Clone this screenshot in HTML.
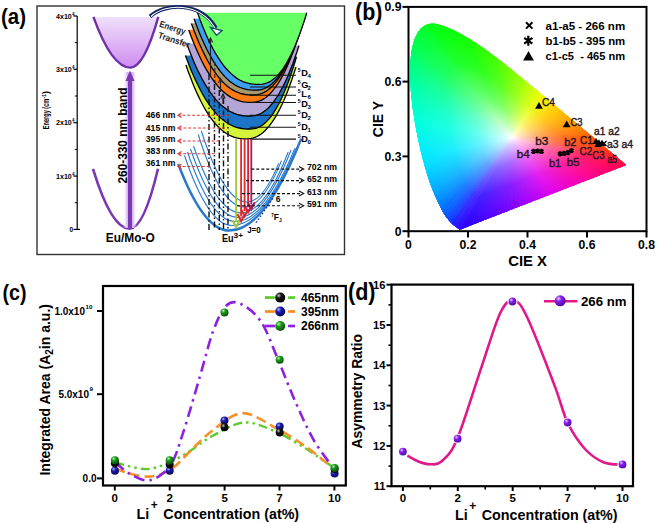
<!DOCTYPE html>
<html><head><meta charset="utf-8"><style>
html,body{margin:0;padding:0;background:#fff;}
body{width:657px;height:523px;position:relative;overflow:hidden;}
svg{position:absolute;left:0;top:0;}
text{font-family:"Liberation Sans",sans-serif;}
</style></head><body>

<svg width="657" height="523" viewBox="0 0 657 523">
<defs><clipPath id="cieclip"><polygon points="460.3,230.0 459.5,229.9 457.4,228.5 455.1,226.8 451.3,223.8 449.5,221.8 447.4,219.3 445.4,216.8 443.2,213.5 441.1,209.6 439.9,207.1 438.5,204.4 437.1,201.5 435.7,198.1 434.6,195.7 433.5,193.1 432.4,190.4 431.2,187.5 430.1,184.4 428.9,181.2 428.1,178.6 427.2,175.9 426.3,173.1 425.5,170.2 424.6,167.2 423.7,164.1 422.9,160.9 422.0,157.7 421.3,155.0 420.6,152.2 420.0,149.3 419.3,146.4 418.6,143.5 417.9,140.5 417.3,137.4 416.7,134.4 416.1,131.4 415.5,128.3 414.9,125.3 414.4,122.1 413.9,119.0 413.4,115.8 412.9,112.6 412.4,109.4 412.0,106.3 411.6,103.1 411.3,100.0 410.9,97.0 410.6,93.6 410.4,90.3 410.1,86.9 409.9,83.6 409.8,80.4 409.7,77.2 409.6,74.0 409.6,70.9 409.7,68.0 409.8,64.2 410.1,60.5 410.4,57.0 410.8,53.5 411.3,50.2 411.9,47.1 412.6,44.2 413.8,40.4 415.1,36.9 416.7,33.8 418.3,31.1 420.1,28.8 423.3,25.9 426.9,24.2 430.6,23.3 433.5,23.2 436.4,23.6 439.5,24.4 442.5,25.2 445.5,26.2 448.5,27.5 451.6,28.9 454.5,30.3 457.4,31.7 460.3,33.2 463.1,34.8 465.9,36.3 468.7,38.0 471.4,39.7 474.1,41.4 476.8,43.2 479.5,45.0 482.2,46.8 484.9,48.7 487.6,50.6 490.2,52.6 492.9,54.6 495.6,56.6 498.2,58.6 500.9,60.7 503.5,62.7 506.2,64.8 508.8,66.9 511.5,69.1 514.2,71.2 516.8,73.4 519.5,75.5 522.2,77.7 524.8,79.9 527.4,82.0 530.1,84.2 532.7,86.4 535.4,88.6 538.0,90.7 540.6,92.9 543.2,95.1 545.8,97.2 548.4,99.4 550.9,101.5 553.5,103.6 556.0,105.7 558.5,107.8 561.0,109.9 563.4,111.9 565.8,114.0 568.2,116.0 570.6,117.9 573.7,120.5 576.7,123.0 579.6,125.4 582.5,127.8 585.2,130.1 587.9,132.4 590.2,134.3 592.4,136.1 595.0,138.3 597.1,140.1 599.5,142.1 602.0,144.2 604.4,146.2 606.6,147.9 609.5,150.4 612.0,152.5 614.2,154.3 616.9,156.6 619.1,158.4 622.4,161.2 625.7,163.9 627.1,165.1 622.4,166.9 617.8,168.7 613.2,170.5 608.5,172.3 603.9,174.1 599.3,175.9 594.6,177.7 590.0,179.5 585.4,181.3 580.7,183.1 576.1,184.9 571.5,186.7 566.8,188.5 562.2,190.3 557.6,192.1 552.9,193.9 548.3,195.7 543.7,197.5 539.1,199.3 534.4,201.1 529.8,202.9 525.2,204.7 520.5,206.5 515.9,208.3 511.3,210.1 506.6,211.9 502.0,213.7 497.4,215.5 492.7,217.3 488.1,219.1 483.5,220.9 478.8,222.7 474.2,224.5 469.6,226.3 464.9,228.2"/></clipPath></defs><g clip-path="url(#cieclip)"><defs><linearGradient id="cg0" gradientUnits="userSpaceOnUse" x1="512" y1="137.5" x2="509.1" y2="231.5"><stop offset="0" stop-color="#fff"/><stop offset="0.1" stop-color="#d1c8ff"/><stop offset="0.35" stop-color="#8269ff"/><stop offset="0.65" stop-color="#4723ff"/><stop offset="1" stop-color="#2e05ff"/></linearGradient><linearGradient id="cg1" gradientUnits="userSpaceOnUse" x1="512" y1="137.5" x2="451.6" y2="224.5"><stop offset="0" stop-color="#fff"/><stop offset="0.1" stop-color="#d1c9ff"/><stop offset="0.35" stop-color="#806dff"/><stop offset="0.65" stop-color="#4529ff"/><stop offset="1" stop-color="#2c0bff"/></linearGradient><linearGradient id="cg2" gradientUnits="userSpaceOnUse" x1="512" y1="137.5" x2="449.7" y2="222.8"><stop offset="0" stop-color="#fff"/><stop offset="0.1" stop-color="#d0caff"/><stop offset="0.35" stop-color="#7f6fff"/><stop offset="0.65" stop-color="#442cff"/><stop offset="1" stop-color="#2a0fff"/></linearGradient><linearGradient id="cg3" gradientUnits="userSpaceOnUse" x1="512" y1="137.5" x2="446.3" y2="219.8"><stop offset="0" stop-color="#fff"/><stop offset="0.1" stop-color="#ceceff"/><stop offset="0.35" stop-color="#7a79ff"/><stop offset="0.65" stop-color="#3c3bff"/><stop offset="1" stop-color="#2120ff"/></linearGradient><linearGradient id="cg4" gradientUnits="userSpaceOnUse" x1="512" y1="137.5" x2="436.2" y2="207.4"><stop offset="0" stop-color="#fff"/><stop offset="0.1" stop-color="#ccd3ff"/><stop offset="0.35" stop-color="#7386ff"/><stop offset="0.65" stop-color="#324eff"/><stop offset="1" stop-color="#1635ff"/></linearGradient><linearGradient id="cg5" gradientUnits="userSpaceOnUse" x1="512" y1="137.5" x2="434.2" y2="203.9"><stop offset="0" stop-color="#fff"/><stop offset="0.1" stop-color="#cad5ff"/><stop offset="0.35" stop-color="#708dff"/><stop offset="0.65" stop-color="#2d58ff"/><stop offset="1" stop-color="#1041ff"/></linearGradient><linearGradient id="cg6" gradientUnits="userSpaceOnUse" x1="512" y1="137.5" x2="432.0" y2="199.4"><stop offset="0" stop-color="#fff"/><stop offset="0.1" stop-color="#c9d8ff"/><stop offset="0.35" stop-color="#6c96ff"/><stop offset="0.65" stop-color="#2865ff"/><stop offset="1" stop-color="#0b50ff"/></linearGradient><linearGradient id="cg7" gradientUnits="userSpaceOnUse" x1="512" y1="137.5" x2="429.1" y2="191.8"><stop offset="0" stop-color="#fff"/><stop offset="0.1" stop-color="#c8dcff"/><stop offset="0.35" stop-color="#6a9eff"/><stop offset="0.65" stop-color="#2471ff"/><stop offset="1" stop-color="#065eff"/></linearGradient><linearGradient id="cg8" gradientUnits="userSpaceOnUse" x1="512" y1="137.5" x2="427.1" y2="183.9"><stop offset="0" stop-color="#fff"/><stop offset="0.1" stop-color="#c7deff"/><stop offset="0.35" stop-color="#67a6ff"/><stop offset="0.65" stop-color="#207cff"/><stop offset="1" stop-color="#026aff"/></linearGradient><linearGradient id="cg9" gradientUnits="userSpaceOnUse" x1="512" y1="137.5" x2="426.6" y2="181.4"><stop offset="0" stop-color="#fff"/><stop offset="0.1" stop-color="#c7e1ff"/><stop offset="0.35" stop-color="#66acff"/><stop offset="0.65" stop-color="#1f86ff"/><stop offset="1" stop-color="#0075ff"/></linearGradient><linearGradient id="cg10" gradientUnits="userSpaceOnUse" x1="512" y1="137.5" x2="426.3" y2="179.7"><stop offset="0" stop-color="#fff"/><stop offset="0.1" stop-color="#c7e3ff"/><stop offset="0.35" stop-color="#66b2ff"/><stop offset="0.65" stop-color="#1f8eff"/><stop offset="1" stop-color="#007fff"/></linearGradient><linearGradient id="cg11" gradientUnits="userSpaceOnUse" x1="512" y1="137.5" x2="426.0" y2="177.7"><stop offset="0" stop-color="#fff"/><stop offset="0.1" stop-color="#c7e5ff"/><stop offset="0.35" stop-color="#66b8ff"/><stop offset="0.65" stop-color="#1f97ff"/><stop offset="1" stop-color="#0089ff"/></linearGradient><linearGradient id="cg12" gradientUnits="userSpaceOnUse" x1="512" y1="137.5" x2="425.7" y2="175.6"><stop offset="0" stop-color="#fff"/><stop offset="0.1" stop-color="#c7e7ff"/><stop offset="0.35" stop-color="#66beff"/><stop offset="0.65" stop-color="#1fa0ff"/><stop offset="1" stop-color="#0093ff"/></linearGradient><linearGradient id="cg13" gradientUnits="userSpaceOnUse" x1="512" y1="137.5" x2="425.6" y2="174.6"><stop offset="0" stop-color="#fff"/><stop offset="0.1" stop-color="#c7e9ff"/><stop offset="0.35" stop-color="#66c3ff"/><stop offset="0.65" stop-color="#1fa7ff"/><stop offset="1" stop-color="#009bff"/></linearGradient><linearGradient id="cg14" gradientUnits="userSpaceOnUse" x1="512" y1="137.5" x2="425.5" y2="174.3"><stop offset="0" stop-color="#fff"/><stop offset="0.1" stop-color="#c7ebff"/><stop offset="0.35" stop-color="#66c7ff"/><stop offset="0.65" stop-color="#1fadff"/><stop offset="1" stop-color="#00a2ff"/></linearGradient><linearGradient id="cg15" gradientUnits="userSpaceOnUse" x1="512" y1="137.5" x2="425.4" y2="173.5"><stop offset="0" stop-color="#fff"/><stop offset="0.1" stop-color="#c7ecff"/><stop offset="0.35" stop-color="#66cbff"/><stop offset="0.65" stop-color="#1fb3ff"/><stop offset="1" stop-color="#00a9ff"/></linearGradient><linearGradient id="cg16" gradientUnits="userSpaceOnUse" x1="512" y1="137.5" x2="425.1" y2="172.1"><stop offset="0" stop-color="#fff"/><stop offset="0.1" stop-color="#c7edff"/><stop offset="0.35" stop-color="#66cfff"/><stop offset="0.65" stop-color="#1fb9ff"/><stop offset="1" stop-color="#00afff"/></linearGradient><linearGradient id="cg17" gradientUnits="userSpaceOnUse" x1="512" y1="137.5" x2="424.8" y2="170.3"><stop offset="0" stop-color="#fff"/><stop offset="0.1" stop-color="#c7efff"/><stop offset="0.35" stop-color="#66d3ff"/><stop offset="0.65" stop-color="#1fbfff"/><stop offset="1" stop-color="#00b6ff"/></linearGradient><linearGradient id="cg18" gradientUnits="userSpaceOnUse" x1="512" y1="137.5" x2="424.4" y2="168.3"><stop offset="0" stop-color="#fff"/><stop offset="0.1" stop-color="#c7f0ff"/><stop offset="0.35" stop-color="#66d7ff"/><stop offset="0.65" stop-color="#1fc5ff"/><stop offset="1" stop-color="#00bdff"/></linearGradient><linearGradient id="cg19" gradientUnits="userSpaceOnUse" x1="512" y1="137.5" x2="424.1" y2="166.7"><stop offset="0" stop-color="#fff"/><stop offset="0.1" stop-color="#c7f2ff"/><stop offset="0.35" stop-color="#66dbff"/><stop offset="0.65" stop-color="#1fcaff"/><stop offset="1" stop-color="#00c2ff"/></linearGradient><linearGradient id="cg20" gradientUnits="userSpaceOnUse" x1="512" y1="137.5" x2="424.0" y2="165.9"><stop offset="0" stop-color="#fff"/><stop offset="0.1" stop-color="#c7f3ff"/><stop offset="0.35" stop-color="#66deff"/><stop offset="0.65" stop-color="#1fceff"/><stop offset="1" stop-color="#00c8ff"/></linearGradient><linearGradient id="cg21" gradientUnits="userSpaceOnUse" x1="512" y1="137.5" x2="423.8" y2="165.0"><stop offset="0" stop-color="#fff"/><stop offset="0.1" stop-color="#c7f4ff"/><stop offset="0.35" stop-color="#66e1ff"/><stop offset="0.65" stop-color="#1fd3ff"/><stop offset="1" stop-color="#00ccff"/></linearGradient><linearGradient id="cg22" gradientUnits="userSpaceOnUse" x1="512" y1="137.5" x2="423.6" y2="164.2"><stop offset="0" stop-color="#fff"/><stop offset="0.1" stop-color="#c7f5ff"/><stop offset="0.35" stop-color="#66e4ff"/><stop offset="0.65" stop-color="#1fd7ff"/><stop offset="1" stop-color="#00d2ff"/></linearGradient><linearGradient id="cg23" gradientUnits="userSpaceOnUse" x1="512" y1="137.5" x2="423.5" y2="163.3"><stop offset="0" stop-color="#fff"/><stop offset="0.1" stop-color="#c7f6ff"/><stop offset="0.35" stop-color="#66e7ff"/><stop offset="0.65" stop-color="#1fdbff"/><stop offset="1" stop-color="#00d6ff"/></linearGradient><linearGradient id="cg24" gradientUnits="userSpaceOnUse" x1="512" y1="137.5" x2="423.3" y2="162.5"><stop offset="0" stop-color="#fff"/><stop offset="0.1" stop-color="#c7f7ff"/><stop offset="0.35" stop-color="#66eaff"/><stop offset="0.65" stop-color="#1fe0ff"/><stop offset="1" stop-color="#00dcff"/></linearGradient><linearGradient id="cg25" gradientUnits="userSpaceOnUse" x1="512" y1="137.5" x2="423.0" y2="161.6"><stop offset="0" stop-color="#fff"/><stop offset="0.1" stop-color="#c7f8ff"/><stop offset="0.35" stop-color="#66edff"/><stop offset="0.65" stop-color="#1fe4ff"/><stop offset="1" stop-color="#00e0ff"/></linearGradient><linearGradient id="cg26" gradientUnits="userSpaceOnUse" x1="512" y1="137.5" x2="422.8" y2="160.7"><stop offset="0" stop-color="#fff"/><stop offset="0.1" stop-color="#c7f9ff"/><stop offset="0.35" stop-color="#66f0ff"/><stop offset="0.65" stop-color="#1fe9ff"/><stop offset="1" stop-color="#00e6ff"/></linearGradient><linearGradient id="cg27" gradientUnits="userSpaceOnUse" x1="512" y1="137.5" x2="422.6" y2="160.0"><stop offset="0" stop-color="#fff"/><stop offset="0.1" stop-color="#c7faff"/><stop offset="0.35" stop-color="#66f2fe"/><stop offset="0.65" stop-color="#1fecfe"/><stop offset="1" stop-color="#00e9fe"/></linearGradient><linearGradient id="cg28" gradientUnits="userSpaceOnUse" x1="512" y1="137.5" x2="422.5" y2="159.6"><stop offset="0" stop-color="#fff"/><stop offset="0.1" stop-color="#c7fbfe"/><stop offset="0.35" stop-color="#66f3fd"/><stop offset="0.65" stop-color="#1fedfc"/><stop offset="1" stop-color="#00ebfb"/></linearGradient><linearGradient id="cg29" gradientUnits="userSpaceOnUse" x1="512" y1="137.5" x2="422.3" y2="159.1"><stop offset="0" stop-color="#fff"/><stop offset="0.1" stop-color="#c7fbfe"/><stop offset="0.35" stop-color="#66f4fb"/><stop offset="0.65" stop-color="#1feff9"/><stop offset="1" stop-color="#00edf9"/></linearGradient><linearGradient id="cg30" gradientUnits="userSpaceOnUse" x1="512" y1="137.5" x2="422.1" y2="158.6"><stop offset="0" stop-color="#fff"/><stop offset="0.1" stop-color="#c7fbfd"/><stop offset="0.35" stop-color="#66f5fa"/><stop offset="0.65" stop-color="#1ff1f7"/><stop offset="1" stop-color="#00eff6"/></linearGradient><linearGradient id="cg31" gradientUnits="userSpaceOnUse" x1="512" y1="137.5" x2="421.9" y2="158.1"><stop offset="0" stop-color="#fff"/><stop offset="0.1" stop-color="#c7fcfc"/><stop offset="0.35" stop-color="#66f6f8"/><stop offset="0.65" stop-color="#1ff2f5"/><stop offset="1" stop-color="#00f1f3"/></linearGradient><linearGradient id="cg32" gradientUnits="userSpaceOnUse" x1="512" y1="137.5" x2="421.7" y2="157.5"><stop offset="0" stop-color="#fff"/><stop offset="0.1" stop-color="#c7fcfc"/><stop offset="0.35" stop-color="#66f8f6"/><stop offset="0.65" stop-color="#1ff4f2"/><stop offset="1" stop-color="#00f3f1"/></linearGradient><linearGradient id="cg33" gradientUnits="userSpaceOnUse" x1="512" y1="137.5" x2="421.4" y2="156.9"><stop offset="0" stop-color="#fff"/><stop offset="0.1" stop-color="#c7fdfb"/><stop offset="0.35" stop-color="#66f9f5"/><stop offset="0.65" stop-color="#1ff6f0"/><stop offset="1" stop-color="#00f4ee"/></linearGradient><linearGradient id="cg34" gradientUnits="userSpaceOnUse" x1="512" y1="137.5" x2="421.1" y2="156.2"><stop offset="0" stop-color="#fff"/><stop offset="0.1" stop-color="#c7fdfb"/><stop offset="0.35" stop-color="#66faf3"/><stop offset="0.65" stop-color="#1ff7ee"/><stop offset="1" stop-color="#00f6ec"/></linearGradient><linearGradient id="cg35" gradientUnits="userSpaceOnUse" x1="512" y1="137.5" x2="420.8" y2="155.5"><stop offset="0" stop-color="#fff"/><stop offset="0.1" stop-color="#c7fefa"/><stop offset="0.35" stop-color="#66fbf2"/><stop offset="0.65" stop-color="#1ff9ec"/><stop offset="1" stop-color="#00f8e9"/></linearGradient><linearGradient id="cg36" gradientUnits="userSpaceOnUse" x1="512" y1="137.5" x2="420.4" y2="154.7"><stop offset="0" stop-color="#fff"/><stop offset="0.1" stop-color="#c7fefa"/><stop offset="0.35" stop-color="#66fcf0"/><stop offset="0.65" stop-color="#1ffbe9"/><stop offset="1" stop-color="#00fae6"/></linearGradient><linearGradient id="cg37" gradientUnits="userSpaceOnUse" x1="512" y1="137.5" x2="420.1" y2="154.0"><stop offset="0" stop-color="#fff"/><stop offset="0.1" stop-color="#c7fef9"/><stop offset="0.35" stop-color="#66fdef"/><stop offset="0.65" stop-color="#1ffce7"/><stop offset="1" stop-color="#00fce4"/></linearGradient><linearGradient id="cg38" gradientUnits="userSpaceOnUse" x1="512" y1="137.5" x2="419.8" y2="153.5"><stop offset="0" stop-color="#fff"/><stop offset="0.1" stop-color="#c7fff8"/><stop offset="0.35" stop-color="#66feed"/><stop offset="0.65" stop-color="#1ffee5"/><stop offset="1" stop-color="#00fee1"/></linearGradient><linearGradient id="cg39" gradientUnits="userSpaceOnUse" x1="512" y1="137.5" x2="419.5" y2="152.9"><stop offset="0" stop-color="#fff"/><stop offset="0.1" stop-color="#c7fff8"/><stop offset="0.35" stop-color="#66ffeb"/><stop offset="0.65" stop-color="#1fffe2"/><stop offset="1" stop-color="#00ffde"/></linearGradient><linearGradient id="cg40" gradientUnits="userSpaceOnUse" x1="512" y1="137.5" x2="419.2" y2="152.3"><stop offset="0" stop-color="#fff"/><stop offset="0.1" stop-color="#c7fff7"/><stop offset="0.35" stop-color="#66ffe8"/><stop offset="0.65" stop-color="#1fffde"/><stop offset="1" stop-color="#00ffd9"/></linearGradient><linearGradient id="cg41" gradientUnits="userSpaceOnUse" x1="512" y1="137.5" x2="418.8" y2="151.7"><stop offset="0" stop-color="#fff"/><stop offset="0.1" stop-color="#c7fff6"/><stop offset="0.35" stop-color="#66ffe6"/><stop offset="0.65" stop-color="#1fffda"/><stop offset="1" stop-color="#00ffd5"/></linearGradient><linearGradient id="cg42" gradientUnits="userSpaceOnUse" x1="512" y1="137.5" x2="418.4" y2="151.0"><stop offset="0" stop-color="#fff"/><stop offset="0.1" stop-color="#c7fff5"/><stop offset="0.35" stop-color="#66ffe3"/><stop offset="0.65" stop-color="#1fffd6"/><stop offset="1" stop-color="#00ffd0"/></linearGradient><linearGradient id="cg43" gradientUnits="userSpaceOnUse" x1="512" y1="137.5" x2="417.9" y2="150.2"><stop offset="0" stop-color="#fff"/><stop offset="0.1" stop-color="#c7fff4"/><stop offset="0.35" stop-color="#66ffe0"/><stop offset="0.65" stop-color="#1fffd2"/><stop offset="1" stop-color="#00ffcb"/></linearGradient><linearGradient id="cg44" gradientUnits="userSpaceOnUse" x1="512" y1="137.5" x2="417.4" y2="149.4"><stop offset="0" stop-color="#fff"/><stop offset="0.1" stop-color="#c7fff3"/><stop offset="0.35" stop-color="#66ffdd"/><stop offset="0.65" stop-color="#1fffce"/><stop offset="1" stop-color="#00ffc7"/></linearGradient><linearGradient id="cg45" gradientUnits="userSpaceOnUse" x1="512" y1="137.5" x2="416.8" y2="148.4"><stop offset="0" stop-color="#fff"/><stop offset="0.1" stop-color="#c7fff2"/><stop offset="0.35" stop-color="#66ffdb"/><stop offset="0.65" stop-color="#1fffca"/><stop offset="1" stop-color="#00ffc2"/></linearGradient><linearGradient id="cg46" gradientUnits="userSpaceOnUse" x1="512" y1="137.5" x2="416.1" y2="147.4"><stop offset="0" stop-color="#fff"/><stop offset="0.1" stop-color="#c7fff1"/><stop offset="0.35" stop-color="#66ffd8"/><stop offset="0.65" stop-color="#1fffc6"/><stop offset="1" stop-color="#00ffbe"/></linearGradient><linearGradient id="cg47" gradientUnits="userSpaceOnUse" x1="512" y1="137.5" x2="415.5" y2="146.4"><stop offset="0" stop-color="#fff"/><stop offset="0.1" stop-color="#c7fff0"/><stop offset="0.35" stop-color="#66ffd5"/><stop offset="0.65" stop-color="#1fffc1"/><stop offset="1" stop-color="#00ffb9"/></linearGradient><linearGradient id="cg48" gradientUnits="userSpaceOnUse" x1="512" y1="137.5" x2="414.9" y2="145.5"><stop offset="0" stop-color="#fff"/><stop offset="0.1" stop-color="#c7ffee"/><stop offset="0.35" stop-color="#66ffd2"/><stop offset="0.65" stop-color="#1fffbd"/><stop offset="1" stop-color="#00ffb4"/></linearGradient><linearGradient id="cg49" gradientUnits="userSpaceOnUse" x1="512" y1="137.5" x2="414.3" y2="144.5"><stop offset="0" stop-color="#fff"/><stop offset="0.1" stop-color="#c7ffed"/><stop offset="0.35" stop-color="#66ffcf"/><stop offset="0.65" stop-color="#1fffb8"/><stop offset="1" stop-color="#00ffaf"/></linearGradient><linearGradient id="cg50" gradientUnits="userSpaceOnUse" x1="512" y1="137.5" x2="413.5" y2="143.5"><stop offset="0" stop-color="#fff"/><stop offset="0.1" stop-color="#c7ffec"/><stop offset="0.35" stop-color="#66ffcc"/><stop offset="0.65" stop-color="#1fffb4"/><stop offset="1" stop-color="#00ffaa"/></linearGradient><linearGradient id="cg51" gradientUnits="userSpaceOnUse" x1="512" y1="137.5" x2="412.7" y2="142.2"><stop offset="0" stop-color="#fff"/><stop offset="0.1" stop-color="#c7ffeb"/><stop offset="0.35" stop-color="#66ffc9"/><stop offset="0.65" stop-color="#1fffaf"/><stop offset="1" stop-color="#00ffa5"/></linearGradient><linearGradient id="cg52" gradientUnits="userSpaceOnUse" x1="512" y1="137.5" x2="411.8" y2="140.8"><stop offset="0" stop-color="#fff"/><stop offset="0.1" stop-color="#c7ffea"/><stop offset="0.35" stop-color="#66ffc5"/><stop offset="0.65" stop-color="#1fffab"/><stop offset="1" stop-color="#00ff9f"/></linearGradient><linearGradient id="cg53" gradientUnits="userSpaceOnUse" x1="512" y1="137.5" x2="410.7" y2="139.3"><stop offset="0" stop-color="#fff"/><stop offset="0.1" stop-color="#c7ffe9"/><stop offset="0.35" stop-color="#66ffc2"/><stop offset="0.65" stop-color="#1fffa5"/><stop offset="1" stop-color="#00ff99"/></linearGradient><linearGradient id="cg54" gradientUnits="userSpaceOnUse" x1="512" y1="137.5" x2="409.6" y2="137.4"><stop offset="0" stop-color="#fff"/><stop offset="0.1" stop-color="#c7ffe7"/><stop offset="0.35" stop-color="#66ffbe"/><stop offset="0.65" stop-color="#1fffa0"/><stop offset="1" stop-color="#00ff93"/></linearGradient><linearGradient id="cg55" gradientUnits="userSpaceOnUse" x1="512" y1="137.5" x2="408.2" y2="135.3"><stop offset="0" stop-color="#fff"/><stop offset="0.1" stop-color="#c7ffe6"/><stop offset="0.35" stop-color="#66ffba"/><stop offset="0.65" stop-color="#1fff9a"/><stop offset="1" stop-color="#00ff8c"/></linearGradient><linearGradient id="cg56" gradientUnits="userSpaceOnUse" x1="512" y1="137.5" x2="406.8" y2="132.9"><stop offset="0" stop-color="#fff"/><stop offset="0.1" stop-color="#c7ffe4"/><stop offset="0.35" stop-color="#66ffb6"/><stop offset="0.65" stop-color="#1fff94"/><stop offset="1" stop-color="#00ff85"/></linearGradient><linearGradient id="cg57" gradientUnits="userSpaceOnUse" x1="512" y1="137.5" x2="405.4" y2="130.3"><stop offset="0" stop-color="#fff"/><stop offset="0.1" stop-color="#c7ffe2"/><stop offset="0.35" stop-color="#66ffb1"/><stop offset="0.65" stop-color="#1fff8d"/><stop offset="1" stop-color="#00ff7d"/></linearGradient><linearGradient id="cg58" gradientUnits="userSpaceOnUse" x1="512" y1="137.5" x2="403.8" y2="127.4"><stop offset="0" stop-color="#fff"/><stop offset="0.1" stop-color="#c7ffe1"/><stop offset="0.35" stop-color="#66ffac"/><stop offset="0.65" stop-color="#1fff85"/><stop offset="1" stop-color="#00ff75"/></linearGradient><linearGradient id="cg59" gradientUnits="userSpaceOnUse" x1="512" y1="137.5" x2="402.2" y2="124.1"><stop offset="0" stop-color="#fff"/><stop offset="0.1" stop-color="#c7ffdf"/><stop offset="0.35" stop-color="#66ffa7"/><stop offset="0.65" stop-color="#1fff7e"/><stop offset="1" stop-color="#00ff6d"/></linearGradient><linearGradient id="cg60" gradientUnits="userSpaceOnUse" x1="512" y1="137.5" x2="400.5" y2="120.2"><stop offset="0" stop-color="#fff"/><stop offset="0.1" stop-color="#c7ffdd"/><stop offset="0.35" stop-color="#66ffa2"/><stop offset="0.65" stop-color="#1fff77"/><stop offset="1" stop-color="#00ff64"/></linearGradient><linearGradient id="cg61" gradientUnits="userSpaceOnUse" x1="512" y1="137.5" x2="398.7" y2="115.6"><stop offset="0" stop-color="#fff"/><stop offset="0.1" stop-color="#c7ffdb"/><stop offset="0.35" stop-color="#66ff9d"/><stop offset="0.65" stop-color="#1fff70"/><stop offset="1" stop-color="#00ff5c"/></linearGradient><linearGradient id="cg62" gradientUnits="userSpaceOnUse" x1="512" y1="137.5" x2="396.9" y2="110.0"><stop offset="0" stop-color="#fff"/><stop offset="0.1" stop-color="#c7ffd9"/><stop offset="0.35" stop-color="#66ff98"/><stop offset="0.65" stop-color="#1fff69"/><stop offset="1" stop-color="#00ff54"/></linearGradient><linearGradient id="cg63" gradientUnits="userSpaceOnUse" x1="512" y1="137.5" x2="395.0" y2="101.8"><stop offset="0" stop-color="#fff"/><stop offset="0.1" stop-color="#c7ffd8"/><stop offset="0.35" stop-color="#66ff94"/><stop offset="0.65" stop-color="#1fff62"/><stop offset="1" stop-color="#00ff4d"/></linearGradient><linearGradient id="cg64" gradientUnits="userSpaceOnUse" x1="512" y1="137.5" x2="393.9" y2="91.4"><stop offset="0" stop-color="#fff"/><stop offset="0.1" stop-color="#c7ffd6"/><stop offset="0.35" stop-color="#66ff90"/><stop offset="0.65" stop-color="#1fff5d"/><stop offset="1" stop-color="#00ff46"/></linearGradient><linearGradient id="cg65" gradientUnits="userSpaceOnUse" x1="512" y1="137.5" x2="394.1" y2="80.1"><stop offset="0" stop-color="#fff"/><stop offset="0.1" stop-color="#c7ffd5"/><stop offset="0.35" stop-color="#66ff8c"/><stop offset="0.65" stop-color="#1fff57"/><stop offset="1" stop-color="#00ff40"/></linearGradient><linearGradient id="cg66" gradientUnits="userSpaceOnUse" x1="512" y1="137.5" x2="396.3" y2="67.4"><stop offset="0" stop-color="#fff"/><stop offset="0.1" stop-color="#c7ffd4"/><stop offset="0.35" stop-color="#66ff89"/><stop offset="0.65" stop-color="#1fff51"/><stop offset="1" stop-color="#00ff3a"/></linearGradient><linearGradient id="cg67" gradientUnits="userSpaceOnUse" x1="512" y1="137.5" x2="401.4" y2="53.3"><stop offset="0" stop-color="#fff"/><stop offset="0.1" stop-color="#c7ffd2"/><stop offset="0.35" stop-color="#66ff85"/><stop offset="0.65" stop-color="#1fff4c"/><stop offset="1" stop-color="#00ff33"/></linearGradient><linearGradient id="cg68" gradientUnits="userSpaceOnUse" x1="512" y1="137.5" x2="418.4" y2="30.3"><stop offset="0" stop-color="#fff"/><stop offset="0.1" stop-color="#c7ffd0"/><stop offset="0.35" stop-color="#66ff80"/><stop offset="0.65" stop-color="#1fff44"/><stop offset="1" stop-color="#00ff2b"/></linearGradient><linearGradient id="cg69" gradientUnits="userSpaceOnUse" x1="512" y1="137.5" x2="452.0" y2="12.2"><stop offset="0" stop-color="#fff"/><stop offset="0.1" stop-color="#c7ffce"/><stop offset="0.35" stop-color="#66ff79"/><stop offset="0.65" stop-color="#1fff3b"/><stop offset="1" stop-color="#00ff20"/></linearGradient><linearGradient id="cg70" gradientUnits="userSpaceOnUse" x1="512" y1="137.5" x2="481.5" y2="11.1"><stop offset="0" stop-color="#fff"/><stop offset="0.1" stop-color="#c7ffcc"/><stop offset="0.35" stop-color="#66ff73"/><stop offset="0.65" stop-color="#1fff31"/><stop offset="1" stop-color="#00ff15"/></linearGradient><linearGradient id="cg71" gradientUnits="userSpaceOnUse" x1="512" y1="137.5" x2="507.3" y2="20.2"><stop offset="0" stop-color="#fff"/><stop offset="0.1" stop-color="#c7ffca"/><stop offset="0.35" stop-color="#66ff6f"/><stop offset="0.65" stop-color="#1fff2c"/><stop offset="1" stop-color="#01ff0f"/></linearGradient><linearGradient id="cg72" gradientUnits="userSpaceOnUse" x1="512" y1="137.5" x2="525.9" y2="35.9"><stop offset="0" stop-color="#fff"/><stop offset="0.1" stop-color="#c7ffca"/><stop offset="0.35" stop-color="#67ff6e"/><stop offset="0.65" stop-color="#20ff2b"/><stop offset="1" stop-color="#02ff0e"/></linearGradient><linearGradient id="cg73" gradientUnits="userSpaceOnUse" x1="512" y1="137.5" x2="534.0" y2="47.4"><stop offset="0" stop-color="#fff"/><stop offset="0.1" stop-color="#c8ffca"/><stop offset="0.35" stop-color="#68ff6e"/><stop offset="0.65" stop-color="#22ff2a"/><stop offset="1" stop-color="#03ff0d"/></linearGradient><linearGradient id="cg74" gradientUnits="userSpaceOnUse" x1="512" y1="137.5" x2="536.5" y2="52.3"><stop offset="0" stop-color="#fff"/><stop offset="0.1" stop-color="#c8ffc9"/><stop offset="0.35" stop-color="#69ff6d"/><stop offset="0.65" stop-color="#23ff29"/><stop offset="1" stop-color="#05ff0b"/></linearGradient><linearGradient id="cg75" gradientUnits="userSpaceOnUse" x1="512" y1="137.5" x2="538.9" y2="57.8"><stop offset="0" stop-color="#fff"/><stop offset="0.1" stop-color="#c8ffc9"/><stop offset="0.35" stop-color="#6aff6c"/><stop offset="0.65" stop-color="#24ff27"/><stop offset="1" stop-color="#06ff0a"/></linearGradient><linearGradient id="cg76" gradientUnits="userSpaceOnUse" x1="512" y1="137.5" x2="541.5" y2="65.8"><stop offset="0" stop-color="#fff"/><stop offset="0.1" stop-color="#c9ffc9"/><stop offset="0.35" stop-color="#6aff6b"/><stop offset="0.65" stop-color="#25ff26"/><stop offset="1" stop-color="#07ff09"/></linearGradient><linearGradient id="cg77" gradientUnits="userSpaceOnUse" x1="512" y1="137.5" x2="542.6" y2="70.5"><stop offset="0" stop-color="#fff"/><stop offset="0.1" stop-color="#c9ffc9"/><stop offset="0.35" stop-color="#6bff6a"/><stop offset="0.65" stop-color="#26ff25"/><stop offset="1" stop-color="#09ff07"/></linearGradient><linearGradient id="cg78" gradientUnits="userSpaceOnUse" x1="512" y1="137.5" x2="543.0" y2="72.3"><stop offset="0" stop-color="#fff"/><stop offset="0.1" stop-color="#c9ffc8"/><stop offset="0.35" stop-color="#6cff6a"/><stop offset="0.65" stop-color="#27ff24"/><stop offset="1" stop-color="#0aff06"/></linearGradient><linearGradient id="cg79" gradientUnits="userSpaceOnUse" x1="512" y1="137.5" x2="543.3" y2="74.0"><stop offset="0" stop-color="#fff"/><stop offset="0.1" stop-color="#c9ffc8"/><stop offset="0.35" stop-color="#6dff69"/><stop offset="0.65" stop-color="#29ff23"/><stop offset="1" stop-color="#0bff05"/></linearGradient><linearGradient id="cg80" gradientUnits="userSpaceOnUse" x1="512" y1="137.5" x2="543.7" y2="76.9"><stop offset="0" stop-color="#fff"/><stop offset="0.1" stop-color="#caffc8"/><stop offset="0.35" stop-color="#6eff68"/><stop offset="0.65" stop-color="#2aff22"/><stop offset="1" stop-color="#0dff03"/></linearGradient><linearGradient id="cg81" gradientUnits="userSpaceOnUse" x1="512" y1="137.5" x2="544.0" y2="79.2"><stop offset="0" stop-color="#fff"/><stop offset="0.1" stop-color="#caffc7"/><stop offset="0.35" stop-color="#6eff67"/><stop offset="0.65" stop-color="#2bff20"/><stop offset="1" stop-color="#0eff02"/></linearGradient><linearGradient id="cg82" gradientUnits="userSpaceOnUse" x1="512" y1="137.5" x2="544.2" y2="80.9"><stop offset="0" stop-color="#fff"/><stop offset="0.1" stop-color="#caffc7"/><stop offset="0.35" stop-color="#6fff66"/><stop offset="0.65" stop-color="#2cff1f"/><stop offset="1" stop-color="#0fff01"/></linearGradient><linearGradient id="cg83" gradientUnits="userSpaceOnUse" x1="512" y1="137.5" x2="544.4" y2="82.7"><stop offset="0" stop-color="#fff"/><stop offset="0.1" stop-color="#cbffc7"/><stop offset="0.35" stop-color="#71ff66"/><stop offset="0.65" stop-color="#2fff1f"/><stop offset="1" stop-color="#12ff00"/></linearGradient><linearGradient id="cg84" gradientUnits="userSpaceOnUse" x1="512" y1="137.5" x2="544.5" y2="84.7"><stop offset="0" stop-color="#fff"/><stop offset="0.1" stop-color="#ccffc7"/><stop offset="0.35" stop-color="#74ff66"/><stop offset="0.65" stop-color="#33ff1f"/><stop offset="1" stop-color="#17ff00"/></linearGradient><linearGradient id="cg85" gradientUnits="userSpaceOnUse" x1="512" y1="137.5" x2="544.6" y2="86.2"><stop offset="0" stop-color="#fff"/><stop offset="0.1" stop-color="#cdffc7"/><stop offset="0.35" stop-color="#77ff66"/><stop offset="0.65" stop-color="#37ff1f"/><stop offset="1" stop-color="#1cff00"/></linearGradient><linearGradient id="cg86" gradientUnits="userSpaceOnUse" x1="512" y1="137.5" x2="544.7" y2="87.4"><stop offset="0" stop-color="#fff"/><stop offset="0.1" stop-color="#ceffc7"/><stop offset="0.35" stop-color="#79ff66"/><stop offset="0.65" stop-color="#3bff1f"/><stop offset="1" stop-color="#20ff00"/></linearGradient><linearGradient id="cg87" gradientUnits="userSpaceOnUse" x1="512" y1="137.5" x2="544.7" y2="88.6"><stop offset="0" stop-color="#fff"/><stop offset="0.1" stop-color="#cfffc7"/><stop offset="0.35" stop-color="#7cff66"/><stop offset="0.65" stop-color="#3fff1f"/><stop offset="1" stop-color="#25ff00"/></linearGradient><linearGradient id="cg88" gradientUnits="userSpaceOnUse" x1="512" y1="137.5" x2="544.8" y2="89.9"><stop offset="0" stop-color="#fff"/><stop offset="0.1" stop-color="#d0ffc7"/><stop offset="0.35" stop-color="#7fff66"/><stop offset="0.65" stop-color="#43ff1f"/><stop offset="1" stop-color="#29ff00"/></linearGradient><linearGradient id="cg89" gradientUnits="userSpaceOnUse" x1="512" y1="137.5" x2="544.8" y2="90.9"><stop offset="0" stop-color="#fff"/><stop offset="0.1" stop-color="#d1ffc7"/><stop offset="0.35" stop-color="#82ff66"/><stop offset="0.65" stop-color="#47ff1f"/><stop offset="1" stop-color="#2eff00"/></linearGradient><linearGradient id="cg90" gradientUnits="userSpaceOnUse" x1="512" y1="137.5" x2="544.8" y2="91.7"><stop offset="0" stop-color="#fff"/><stop offset="0.1" stop-color="#d2ffc7"/><stop offset="0.35" stop-color="#84ff66"/><stop offset="0.65" stop-color="#4bff1f"/><stop offset="1" stop-color="#33ff00"/></linearGradient><linearGradient id="cg91" gradientUnits="userSpaceOnUse" x1="512" y1="137.5" x2="544.9" y2="92.5"><stop offset="0" stop-color="#fff"/><stop offset="0.1" stop-color="#d3ffc7"/><stop offset="0.35" stop-color="#87ff66"/><stop offset="0.65" stop-color="#4fff1f"/><stop offset="1" stop-color="#37ff00"/></linearGradient><linearGradient id="cg92" gradientUnits="userSpaceOnUse" x1="512" y1="137.5" x2="544.9" y2="93.3"><stop offset="0" stop-color="#fff"/><stop offset="0.1" stop-color="#d4ffc7"/><stop offset="0.35" stop-color="#8aff66"/><stop offset="0.65" stop-color="#53ff1f"/><stop offset="1" stop-color="#3cff00"/></linearGradient><linearGradient id="cg93" gradientUnits="userSpaceOnUse" x1="512" y1="137.5" x2="545.0" y2="93.9"><stop offset="0" stop-color="#fff"/><stop offset="0.1" stop-color="#d5ffc7"/><stop offset="0.35" stop-color="#8dff66"/><stop offset="0.65" stop-color="#58ff1f"/><stop offset="1" stop-color="#42ff00"/></linearGradient><linearGradient id="cg94" gradientUnits="userSpaceOnUse" x1="512" y1="137.5" x2="545.0" y2="94.3"><stop offset="0" stop-color="#fff"/><stop offset="0.1" stop-color="#d7ffc7"/><stop offset="0.35" stop-color="#92ff66"/><stop offset="0.65" stop-color="#5fff1f"/><stop offset="1" stop-color="#49ff00"/></linearGradient><linearGradient id="cg95" gradientUnits="userSpaceOnUse" x1="512" y1="137.5" x2="545.0" y2="94.7"><stop offset="0" stop-color="#fff"/><stop offset="0.1" stop-color="#d9ffc7"/><stop offset="0.35" stop-color="#97ff66"/><stop offset="0.65" stop-color="#66ff1f"/><stop offset="1" stop-color="#52ff00"/></linearGradient><linearGradient id="cg96" gradientUnits="userSpaceOnUse" x1="512" y1="137.5" x2="545.1" y2="95.2"><stop offset="0" stop-color="#fff"/><stop offset="0.1" stop-color="#dbffc7"/><stop offset="0.35" stop-color="#9cff66"/><stop offset="0.65" stop-color="#6eff1f"/><stop offset="1" stop-color="#5aff00"/></linearGradient><linearGradient id="cg97" gradientUnits="userSpaceOnUse" x1="512" y1="137.5" x2="545.1" y2="95.5"><stop offset="0" stop-color="#fff"/><stop offset="0.1" stop-color="#dcffc7"/><stop offset="0.35" stop-color="#a1ff66"/><stop offset="0.65" stop-color="#75ff1f"/><stop offset="1" stop-color="#62ff00"/></linearGradient><linearGradient id="cg98" gradientUnits="userSpaceOnUse" x1="512" y1="137.5" x2="545.1" y2="95.7"><stop offset="0" stop-color="#fff"/><stop offset="0.1" stop-color="#deffc7"/><stop offset="0.35" stop-color="#a6ff66"/><stop offset="0.65" stop-color="#7cff1f"/><stop offset="1" stop-color="#6aff00"/></linearGradient><linearGradient id="cg99" gradientUnits="userSpaceOnUse" x1="512" y1="137.5" x2="545.2" y2="95.9"><stop offset="0" stop-color="#fff"/><stop offset="0.1" stop-color="#e0ffc7"/><stop offset="0.35" stop-color="#abff66"/><stop offset="0.65" stop-color="#84ff1f"/><stop offset="1" stop-color="#73ff00"/></linearGradient><linearGradient id="cg100" gradientUnits="userSpaceOnUse" x1="512" y1="137.5" x2="545.2" y2="96.1"><stop offset="0" stop-color="#fff"/><stop offset="0.1" stop-color="#e2ffc7"/><stop offset="0.35" stop-color="#b0ff66"/><stop offset="0.65" stop-color="#8bff1f"/><stop offset="1" stop-color="#7bff00"/></linearGradient><linearGradient id="cg101" gradientUnits="userSpaceOnUse" x1="512" y1="137.5" x2="545.3" y2="96.3"><stop offset="0" stop-color="#fff"/><stop offset="0.1" stop-color="#e4ffc7"/><stop offset="0.35" stop-color="#b5ff66"/><stop offset="0.65" stop-color="#92ff1f"/><stop offset="1" stop-color="#84ff00"/></linearGradient><linearGradient id="cg102" gradientUnits="userSpaceOnUse" x1="512" y1="137.5" x2="545.3" y2="96.5"><stop offset="0" stop-color="#fff"/><stop offset="0.1" stop-color="#e6ffc7"/><stop offset="0.35" stop-color="#baff66"/><stop offset="0.65" stop-color="#9aff1f"/><stop offset="1" stop-color="#8cff00"/></linearGradient><linearGradient id="cg103" gradientUnits="userSpaceOnUse" x1="512" y1="137.5" x2="545.4" y2="96.6"><stop offset="0" stop-color="#fff"/><stop offset="0.1" stop-color="#e8ffc7"/><stop offset="0.35" stop-color="#c0ff66"/><stop offset="0.65" stop-color="#a2ff1f"/><stop offset="1" stop-color="#96ff00"/></linearGradient><linearGradient id="cg104" gradientUnits="userSpaceOnUse" x1="512" y1="137.5" x2="545.4" y2="96.8"><stop offset="0" stop-color="#fff"/><stop offset="0.1" stop-color="#eaffc7"/><stop offset="0.35" stop-color="#c6ff66"/><stop offset="0.65" stop-color="#acff1f"/><stop offset="1" stop-color="#a0ff00"/></linearGradient><linearGradient id="cg105" gradientUnits="userSpaceOnUse" x1="512" y1="137.5" x2="545.5" y2="96.9"><stop offset="0" stop-color="#fff"/><stop offset="0.1" stop-color="#edffc7"/><stop offset="0.35" stop-color="#cdff66"/><stop offset="0.65" stop-color="#b6ff1f"/><stop offset="1" stop-color="#acff00"/></linearGradient><linearGradient id="cg106" gradientUnits="userSpaceOnUse" x1="512" y1="137.5" x2="545.5" y2="96.9"><stop offset="0" stop-color="#fff"/><stop offset="0.1" stop-color="#efffc7"/><stop offset="0.35" stop-color="#d4ff66"/><stop offset="0.65" stop-color="#bfff1f"/><stop offset="1" stop-color="#b6ff00"/></linearGradient><linearGradient id="cg107" gradientUnits="userSpaceOnUse" x1="512" y1="137.5" x2="545.5" y2="96.9"><stop offset="0" stop-color="#fff"/><stop offset="0.1" stop-color="#f1ffc7"/><stop offset="0.35" stop-color="#daff66"/><stop offset="0.65" stop-color="#c9ff1f"/><stop offset="1" stop-color="#c2ff00"/></linearGradient><linearGradient id="cg108" gradientUnits="userSpaceOnUse" x1="512" y1="137.5" x2="545.5" y2="96.9"><stop offset="0" stop-color="#fff"/><stop offset="0.1" stop-color="#f4ffc7"/><stop offset="0.35" stop-color="#e1ff66"/><stop offset="0.65" stop-color="#d3ff1f"/><stop offset="1" stop-color="#ccff00"/></linearGradient><linearGradient id="cg109" gradientUnits="userSpaceOnUse" x1="512" y1="137.5" x2="545.5" y2="97.0"><stop offset="0" stop-color="#fff"/><stop offset="0.1" stop-color="#f6ffc7"/><stop offset="0.35" stop-color="#e7ff66"/><stop offset="0.65" stop-color="#dcff1f"/><stop offset="1" stop-color="#d8ff00"/></linearGradient><linearGradient id="cg110" gradientUnits="userSpaceOnUse" x1="512" y1="137.5" x2="545.6" y2="97.0"><stop offset="0" stop-color="#fff"/><stop offset="0.1" stop-color="#f9ffc7"/><stop offset="0.35" stop-color="#eeff66"/><stop offset="0.65" stop-color="#e6ff1f"/><stop offset="1" stop-color="#e2ff00"/></linearGradient><linearGradient id="cg111" gradientUnits="userSpaceOnUse" x1="512" y1="137.5" x2="545.6" y2="97.1"><stop offset="0" stop-color="#fff"/><stop offset="0.1" stop-color="#fafec7"/><stop offset="0.35" stop-color="#f2fd66"/><stop offset="0.65" stop-color="#ecfc1f"/><stop offset="1" stop-color="#eafb00"/></linearGradient><linearGradient id="cg112" gradientUnits="userSpaceOnUse" x1="512" y1="137.5" x2="545.7" y2="97.1"><stop offset="0" stop-color="#fff"/><stop offset="0.1" stop-color="#fbfdc7"/><stop offset="0.35" stop-color="#f4f866"/><stop offset="0.65" stop-color="#f0f51f"/><stop offset="1" stop-color="#edf400"/></linearGradient><linearGradient id="cg113" gradientUnits="userSpaceOnUse" x1="512" y1="137.5" x2="545.7" y2="97.1"><stop offset="0" stop-color="#fff"/><stop offset="0.1" stop-color="#fcfbc7"/><stop offset="0.35" stop-color="#f7f466"/><stop offset="0.65" stop-color="#f3ef1f"/><stop offset="1" stop-color="#f1ed00"/></linearGradient><linearGradient id="cg114" gradientUnits="userSpaceOnUse" x1="512" y1="137.5" x2="545.7" y2="97.1"><stop offset="0" stop-color="#fff"/><stop offset="0.1" stop-color="#fdf9c7"/><stop offset="0.35" stop-color="#f9f066"/><stop offset="0.65" stop-color="#f6e81f"/><stop offset="1" stop-color="#f5e500"/></linearGradient><linearGradient id="cg115" gradientUnits="userSpaceOnUse" x1="512" y1="137.5" x2="545.7" y2="97.1"><stop offset="0" stop-color="#fff"/><stop offset="0.1" stop-color="#fdf8c7"/><stop offset="0.35" stop-color="#fbeb66"/><stop offset="0.65" stop-color="#f9e21f"/><stop offset="1" stop-color="#f8de00"/></linearGradient><linearGradient id="cg116" gradientUnits="userSpaceOnUse" x1="512" y1="137.5" x2="545.7" y2="97.1"><stop offset="0" stop-color="#fff"/><stop offset="0.1" stop-color="#fef6c7"/><stop offset="0.35" stop-color="#fde766"/><stop offset="0.65" stop-color="#fcdb1f"/><stop offset="1" stop-color="#fcd700"/></linearGradient><linearGradient id="cg117" gradientUnits="userSpaceOnUse" x1="512" y1="137.5" x2="545.7" y2="97.2"><stop offset="0" stop-color="#fff"/><stop offset="0.1" stop-color="#fff5c7"/><stop offset="0.35" stop-color="#ffe266"/><stop offset="0.65" stop-color="#fed51f"/><stop offset="1" stop-color="#fecf00"/></linearGradient><linearGradient id="cg118" gradientUnits="userSpaceOnUse" x1="512" y1="137.5" x2="545.7" y2="97.1"><stop offset="0" stop-color="#fff"/><stop offset="0.1" stop-color="#fff3c7"/><stop offset="0.35" stop-color="#ffde66"/><stop offset="0.65" stop-color="#ffcf1f"/><stop offset="1" stop-color="#ffc800"/></linearGradient><linearGradient id="cg119" gradientUnits="userSpaceOnUse" x1="512" y1="137.5" x2="545.7" y2="97.1"><stop offset="0" stop-color="#fff"/><stop offset="0.1" stop-color="#fff1c7"/><stop offset="0.35" stop-color="#ffda66"/><stop offset="0.65" stop-color="#ffc91f"/><stop offset="1" stop-color="#ffc100"/></linearGradient><linearGradient id="cg120" gradientUnits="userSpaceOnUse" x1="512" y1="137.5" x2="545.7" y2="97.1"><stop offset="0" stop-color="#fff"/><stop offset="0.1" stop-color="#fff0c7"/><stop offset="0.35" stop-color="#ffd666"/><stop offset="0.65" stop-color="#ffc31f"/><stop offset="1" stop-color="#ffba00"/></linearGradient><linearGradient id="cg121" gradientUnits="userSpaceOnUse" x1="512" y1="137.5" x2="545.7" y2="97.1"><stop offset="0" stop-color="#fff"/><stop offset="0.1" stop-color="#ffeec7"/><stop offset="0.35" stop-color="#ffd266"/><stop offset="0.65" stop-color="#ffbc1f"/><stop offset="1" stop-color="#ffb300"/></linearGradient><linearGradient id="cg122" gradientUnits="userSpaceOnUse" x1="512" y1="137.5" x2="545.7" y2="97.1"><stop offset="0" stop-color="#fff"/><stop offset="0.1" stop-color="#ffedc7"/><stop offset="0.35" stop-color="#ffcd66"/><stop offset="0.65" stop-color="#ffb61f"/><stop offset="1" stop-color="#ffac00"/></linearGradient><linearGradient id="cg123" gradientUnits="userSpaceOnUse" x1="512" y1="137.5" x2="545.6" y2="97.1"><stop offset="0" stop-color="#fff"/><stop offset="0.1" stop-color="#ffebc7"/><stop offset="0.35" stop-color="#ffc866"/><stop offset="0.65" stop-color="#ffaf1f"/><stop offset="1" stop-color="#ffa400"/></linearGradient><linearGradient id="cg124" gradientUnits="userSpaceOnUse" x1="512" y1="137.5" x2="545.6" y2="97.1"><stop offset="0" stop-color="#fff"/><stop offset="0.1" stop-color="#ffe9c7"/><stop offset="0.35" stop-color="#ffc366"/><stop offset="0.65" stop-color="#ffa71f"/><stop offset="1" stop-color="#ff9b00"/></linearGradient><linearGradient id="cg125" gradientUnits="userSpaceOnUse" x1="512" y1="137.5" x2="545.6" y2="97.1"><stop offset="0" stop-color="#fff"/><stop offset="0.1" stop-color="#ffe7c7"/><stop offset="0.35" stop-color="#ffbd66"/><stop offset="0.65" stop-color="#ff9f1f"/><stop offset="1" stop-color="#ff9200"/></linearGradient><linearGradient id="cg126" gradientUnits="userSpaceOnUse" x1="512" y1="137.5" x2="545.8" y2="97.1"><stop offset="0" stop-color="#fff"/><stop offset="0.1" stop-color="#ffe5c7"/><stop offset="0.35" stop-color="#ffb866"/><stop offset="0.65" stop-color="#ff971f"/><stop offset="1" stop-color="#ff8900"/></linearGradient><linearGradient id="cg127" gradientUnits="userSpaceOnUse" x1="512" y1="137.5" x2="545.9" y2="97.1"><stop offset="0" stop-color="#fff"/><stop offset="0.1" stop-color="#ffe3c7"/><stop offset="0.35" stop-color="#ffb366"/><stop offset="0.65" stop-color="#ff8f1f"/><stop offset="1" stop-color="#ff8000"/></linearGradient><linearGradient id="cg128" gradientUnits="userSpaceOnUse" x1="512" y1="137.5" x2="545.8" y2="97.1"><stop offset="0" stop-color="#fff"/><stop offset="0.1" stop-color="#ffe1c7"/><stop offset="0.35" stop-color="#ffad66"/><stop offset="0.65" stop-color="#ff871f"/><stop offset="1" stop-color="#ff7700"/></linearGradient><linearGradient id="cg129" gradientUnits="userSpaceOnUse" x1="512" y1="137.5" x2="545.7" y2="97.1"><stop offset="0" stop-color="#fff"/><stop offset="0.1" stop-color="#ffdfc7"/><stop offset="0.35" stop-color="#ffa866"/><stop offset="0.65" stop-color="#ff801f"/><stop offset="1" stop-color="#ff6e00"/></linearGradient><linearGradient id="cg130" gradientUnits="userSpaceOnUse" x1="512" y1="137.5" x2="545.7" y2="97.1"><stop offset="0" stop-color="#fff"/><stop offset="0.1" stop-color="#ffddc7"/><stop offset="0.35" stop-color="#ffa366"/><stop offset="0.65" stop-color="#ff781f"/><stop offset="1" stop-color="#ff6500"/></linearGradient><linearGradient id="cg131" gradientUnits="userSpaceOnUse" x1="512" y1="137.5" x2="545.6" y2="97.2"><stop offset="0" stop-color="#fff"/><stop offset="0.1" stop-color="#ffdbc7"/><stop offset="0.35" stop-color="#ff9d66"/><stop offset="0.65" stop-color="#ff701f"/><stop offset="1" stop-color="#ff5c00"/></linearGradient><linearGradient id="cg132" gradientUnits="userSpaceOnUse" x1="512" y1="137.5" x2="545.5" y2="97.2"><stop offset="0" stop-color="#fff"/><stop offset="0.1" stop-color="#ffdac7"/><stop offset="0.35" stop-color="#ff9967"/><stop offset="0.65" stop-color="#ff6a20"/><stop offset="1" stop-color="#ff5602"/></linearGradient><linearGradient id="cg133" gradientUnits="userSpaceOnUse" x1="512" y1="137.5" x2="545.5" y2="97.2"><stop offset="0" stop-color="#fff"/><stop offset="0.1" stop-color="#ffd9c8"/><stop offset="0.35" stop-color="#ff9669"/><stop offset="0.65" stop-color="#ff6623"/><stop offset="1" stop-color="#ff5105"/></linearGradient><linearGradient id="cg134" gradientUnits="userSpaceOnUse" x1="512" y1="137.5" x2="545.5" y2="97.2"><stop offset="0" stop-color="#fff"/><stop offset="0.1" stop-color="#ffd8c9"/><stop offset="0.35" stop-color="#ff946b"/><stop offset="0.65" stop-color="#ff6126"/><stop offset="1" stop-color="#ff4c08"/></linearGradient><linearGradient id="cg135" gradientUnits="userSpaceOnUse" x1="512" y1="137.5" x2="545.5" y2="97.2"><stop offset="0" stop-color="#fff"/><stop offset="0.1" stop-color="#ffd7c9"/><stop offset="0.35" stop-color="#ff916d"/><stop offset="0.65" stop-color="#ff5d28"/><stop offset="1" stop-color="#ff470b"/></linearGradient><linearGradient id="cg136" gradientUnits="userSpaceOnUse" x1="512" y1="137.5" x2="545.6" y2="97.2"><stop offset="0" stop-color="#fff"/><stop offset="0.1" stop-color="#ffd6ca"/><stop offset="0.35" stop-color="#ff8e6f"/><stop offset="0.65" stop-color="#ff592b"/><stop offset="1" stop-color="#ff420e"/></linearGradient><linearGradient id="cg137" gradientUnits="userSpaceOnUse" x1="512" y1="137.5" x2="545.8" y2="97.1"><stop offset="0" stop-color="#fff"/><stop offset="0.1" stop-color="#ffd4cb"/><stop offset="0.35" stop-color="#ff8a71"/><stop offset="0.65" stop-color="#ff532f"/><stop offset="1" stop-color="#ff3c13"/></linearGradient><linearGradient id="cg138" gradientUnits="userSpaceOnUse" x1="512" y1="137.5" x2="546.0" y2="97.0"><stop offset="0" stop-color="#fff"/><stop offset="0.1" stop-color="#ffd2cc"/><stop offset="0.35" stop-color="#ff8574"/><stop offset="0.65" stop-color="#ff4c34"/><stop offset="1" stop-color="#ff3418"/></linearGradient><linearGradient id="cg139" gradientUnits="userSpaceOnUse" x1="512" y1="137.5" x2="545.9" y2="97.1"><stop offset="0" stop-color="#fff"/><stop offset="0.1" stop-color="#ffd1cd"/><stop offset="0.35" stop-color="#ff8078"/><stop offset="0.65" stop-color="#ff4538"/><stop offset="1" stop-color="#ff2c1d"/></linearGradient><linearGradient id="cg140" gradientUnits="userSpaceOnUse" x1="512" y1="137.5" x2="545.6" y2="97.2"><stop offset="0" stop-color="#fff"/><stop offset="0.1" stop-color="#ffcfcf"/><stop offset="0.35" stop-color="#ff7c7b"/><stop offset="0.65" stop-color="#ff3f3e"/><stop offset="1" stop-color="#ff2523"/></linearGradient><linearGradient id="cg141" gradientUnits="userSpaceOnUse" x1="512" y1="137.5" x2="545.5" y2="97.2"><stop offset="0" stop-color="#fff"/><stop offset="0.1" stop-color="#ffced0"/><stop offset="0.35" stop-color="#ff797f"/><stop offset="0.65" stop-color="#ff3a43"/><stop offset="1" stop-color="#ff1f2a"/></linearGradient><linearGradient id="cg142" gradientUnits="userSpaceOnUse" x1="512" y1="137.5" x2="545.9" y2="97.1"><stop offset="0" stop-color="#fff"/><stop offset="0.1" stop-color="#ffccd2"/><stop offset="0.35" stop-color="#ff7385"/><stop offset="0.65" stop-color="#ff324c"/><stop offset="1" stop-color="#ff1633"/></linearGradient><linearGradient id="cg143" gradientUnits="userSpaceOnUse" x1="512" y1="137.5" x2="545.4" y2="97.2"><stop offset="0" stop-color="#fff"/><stop offset="0.1" stop-color="#ffc9d5"/><stop offset="0.35" stop-color="#ff6d8b"/><stop offset="0.65" stop-color="#ff2955"/><stop offset="1" stop-color="#ff0c3e"/></linearGradient><linearGradient id="cg144" gradientUnits="userSpaceOnUse" x1="512" y1="137.5" x2="545.9" y2="97.0"><stop offset="0" stop-color="#fff"/><stop offset="0.1" stop-color="#ffc8d6"/><stop offset="0.35" stop-color="#ff688f"/><stop offset="0.65" stop-color="#ff225b"/><stop offset="1" stop-color="#ff0445"/></linearGradient><linearGradient id="cg145" gradientUnits="userSpaceOnUse" x1="512" y1="137.5" x2="536.4" y2="200.3"><stop offset="0" stop-color="#fff"/><stop offset="0.1" stop-color="#ffc7d8"/><stop offset="0.35" stop-color="#ff6694"/><stop offset="0.65" stop-color="#ff1f62"/><stop offset="1" stop-color="#ff004d"/></linearGradient><linearGradient id="cg146" gradientUnits="userSpaceOnUse" x1="512" y1="137.5" x2="536.4" y2="200.3"><stop offset="0" stop-color="#fff"/><stop offset="0.1" stop-color="#ffc7da"/><stop offset="0.35" stop-color="#ff669a"/><stop offset="0.65" stop-color="#ff1f6b"/><stop offset="1" stop-color="#ff0057"/></linearGradient><linearGradient id="cg147" gradientUnits="userSpaceOnUse" x1="512" y1="137.5" x2="536.4" y2="200.3"><stop offset="0" stop-color="#fff"/><stop offset="0.1" stop-color="#ffc7dc"/><stop offset="0.35" stop-color="#ff66a0"/><stop offset="0.65" stop-color="#ff1f74"/><stop offset="1" stop-color="#ff0061"/></linearGradient><linearGradient id="cg148" gradientUnits="userSpaceOnUse" x1="512" y1="137.5" x2="536.4" y2="200.3"><stop offset="0" stop-color="#fff"/><stop offset="0.1" stop-color="#ffc7de"/><stop offset="0.35" stop-color="#ff66a6"/><stop offset="0.65" stop-color="#ff1f7d"/><stop offset="1" stop-color="#ff006b"/></linearGradient><linearGradient id="cg149" gradientUnits="userSpaceOnUse" x1="512" y1="137.5" x2="536.4" y2="200.3"><stop offset="0" stop-color="#fff"/><stop offset="0.1" stop-color="#ffc7e1"/><stop offset="0.35" stop-color="#ff66ac"/><stop offset="0.65" stop-color="#ff1f86"/><stop offset="1" stop-color="#ff0075"/></linearGradient><linearGradient id="cg150" gradientUnits="userSpaceOnUse" x1="512" y1="137.5" x2="536.4" y2="200.3"><stop offset="0" stop-color="#fff"/><stop offset="0.1" stop-color="#ffc7e3"/><stop offset="0.35" stop-color="#ff66b2"/><stop offset="0.65" stop-color="#ff1f8e"/><stop offset="1" stop-color="#ff007f"/></linearGradient><linearGradient id="cg151" gradientUnits="userSpaceOnUse" x1="512" y1="137.5" x2="536.4" y2="200.3"><stop offset="0" stop-color="#fff"/><stop offset="0.1" stop-color="#ffc7e5"/><stop offset="0.35" stop-color="#ff66b8"/><stop offset="0.65" stop-color="#ff1f97"/><stop offset="1" stop-color="#ff0089"/></linearGradient><linearGradient id="cg152" gradientUnits="userSpaceOnUse" x1="512" y1="137.5" x2="536.4" y2="200.3"><stop offset="0" stop-color="#fff"/><stop offset="0.1" stop-color="#ffc7e7"/><stop offset="0.35" stop-color="#fe66be"/><stop offset="0.65" stop-color="#fe1fa0"/><stop offset="1" stop-color="#fe0093"/></linearGradient><linearGradient id="cg153" gradientUnits="userSpaceOnUse" x1="512" y1="137.5" x2="536.4" y2="200.3"><stop offset="0" stop-color="#fff"/><stop offset="0.1" stop-color="#fec7ea"/><stop offset="0.35" stop-color="#fc66c5"/><stop offset="0.65" stop-color="#fb1faa"/><stop offset="1" stop-color="#fb009e"/></linearGradient><linearGradient id="cg154" gradientUnits="userSpaceOnUse" x1="512" y1="137.5" x2="536.4" y2="200.3"><stop offset="0" stop-color="#fff"/><stop offset="0.1" stop-color="#fdc7ec"/><stop offset="0.35" stop-color="#fa66cb"/><stop offset="0.65" stop-color="#f81fb3"/><stop offset="1" stop-color="#f700a9"/></linearGradient><linearGradient id="cg155" gradientUnits="userSpaceOnUse" x1="512" y1="137.5" x2="536.4" y2="200.3"><stop offset="0" stop-color="#fff"/><stop offset="0.1" stop-color="#fcc7ee"/><stop offset="0.35" stop-color="#f866d2"/><stop offset="0.65" stop-color="#f51fbc"/><stop offset="1" stop-color="#f400b3"/></linearGradient><linearGradient id="cg156" gradientUnits="userSpaceOnUse" x1="512" y1="137.5" x2="536.4" y2="200.3"><stop offset="0" stop-color="#fff"/><stop offset="0.1" stop-color="#fcc7f1"/><stop offset="0.35" stop-color="#f666d8"/><stop offset="0.65" stop-color="#f21fc6"/><stop offset="1" stop-color="#f000be"/></linearGradient><linearGradient id="cg157" gradientUnits="userSpaceOnUse" x1="512" y1="137.5" x2="536.4" y2="200.3"><stop offset="0" stop-color="#fff"/><stop offset="0.1" stop-color="#fbc7f3"/><stop offset="0.35" stop-color="#f466de"/><stop offset="0.65" stop-color="#ef1fcf"/><stop offset="1" stop-color="#ed00c9"/></linearGradient><linearGradient id="cg158" gradientUnits="userSpaceOnUse" x1="512" y1="137.5" x2="536.4" y2="200.3"><stop offset="0" stop-color="#fff"/><stop offset="0.1" stop-color="#fac7f5"/><stop offset="0.35" stop-color="#f266e5"/><stop offset="0.65" stop-color="#ec1fd8"/><stop offset="1" stop-color="#e900d3"/></linearGradient><linearGradient id="cg159" gradientUnits="userSpaceOnUse" x1="512" y1="137.5" x2="536.4" y2="200.3"><stop offset="0" stop-color="#fff"/><stop offset="0.1" stop-color="#f9c7f8"/><stop offset="0.35" stop-color="#f066eb"/><stop offset="0.65" stop-color="#e91fe2"/><stop offset="1" stop-color="#e600de"/></linearGradient><linearGradient id="cg160" gradientUnits="userSpaceOnUse" x1="512" y1="137.5" x2="536.4" y2="200.3"><stop offset="0" stop-color="#fff"/><stop offset="0.1" stop-color="#f9c7fa"/><stop offset="0.35" stop-color="#ee66f2"/><stop offset="0.65" stop-color="#e61feb"/><stop offset="1" stop-color="#e200e9"/></linearGradient><linearGradient id="cg161" gradientUnits="userSpaceOnUse" x1="512" y1="137.5" x2="536.4" y2="200.3"><stop offset="0" stop-color="#fff"/><stop offset="0.1" stop-color="#f7c7fc"/><stop offset="0.35" stop-color="#ea66f6"/><stop offset="0.65" stop-color="#e01ff1"/><stop offset="1" stop-color="#dc00f0"/></linearGradient><linearGradient id="cg162" gradientUnits="userSpaceOnUse" x1="512" y1="137.5" x2="536.4" y2="200.3"><stop offset="0" stop-color="#fff"/><stop offset="0.1" stop-color="#f5c7fc"/><stop offset="0.35" stop-color="#e366f7"/><stop offset="0.65" stop-color="#d71ff4"/><stop offset="1" stop-color="#d100f2"/></linearGradient><linearGradient id="cg163" gradientUnits="userSpaceOnUse" x1="512" y1="137.5" x2="536.4" y2="200.3"><stop offset="0" stop-color="#fff"/><stop offset="0.1" stop-color="#f2c7fd"/><stop offset="0.35" stop-color="#dc66f8"/><stop offset="0.65" stop-color="#cc1ff5"/><stop offset="1" stop-color="#c500f4"/></linearGradient><linearGradient id="cg164" gradientUnits="userSpaceOnUse" x1="512" y1="137.5" x2="536.4" y2="200.3"><stop offset="0" stop-color="#fff"/><stop offset="0.1" stop-color="#f0c7fd"/><stop offset="0.35" stop-color="#d666f9"/><stop offset="0.65" stop-color="#c21ff7"/><stop offset="1" stop-color="#ba00f6"/></linearGradient><linearGradient id="cg165" gradientUnits="userSpaceOnUse" x1="512" y1="137.5" x2="536.4" y2="200.3"><stop offset="0" stop-color="#fff"/><stop offset="0.1" stop-color="#edc7fd"/><stop offset="0.35" stop-color="#cf66fa"/><stop offset="0.65" stop-color="#b81ff8"/><stop offset="1" stop-color="#ae00f7"/></linearGradient><linearGradient id="cg166" gradientUnits="userSpaceOnUse" x1="512" y1="137.5" x2="536.4" y2="200.3"><stop offset="0" stop-color="#fff"/><stop offset="0.1" stop-color="#ebc7fe"/><stop offset="0.35" stop-color="#c866fb"/><stop offset="0.65" stop-color="#ae1ffa"/><stop offset="1" stop-color="#a300f9"/></linearGradient><linearGradient id="cg167" gradientUnits="userSpaceOnUse" x1="512" y1="137.5" x2="536.4" y2="200.3"><stop offset="0" stop-color="#fff"/><stop offset="0.1" stop-color="#e8c7fe"/><stop offset="0.35" stop-color="#c166fc"/><stop offset="0.65" stop-color="#a41ffb"/><stop offset="1" stop-color="#9700fa"/></linearGradient><linearGradient id="cg168" gradientUnits="userSpaceOnUse" x1="512" y1="137.5" x2="536.4" y2="200.3"><stop offset="0" stop-color="#fff"/><stop offset="0.1" stop-color="#e6c7fe"/><stop offset="0.35" stop-color="#ba66fd"/><stop offset="0.65" stop-color="#991ffd"/><stop offset="1" stop-color="#8c00fc"/></linearGradient><linearGradient id="cg169" gradientUnits="userSpaceOnUse" x1="512" y1="137.5" x2="536.4" y2="200.3"><stop offset="0" stop-color="#fff"/><stop offset="0.1" stop-color="#e3c7ff"/><stop offset="0.35" stop-color="#b366fe"/><stop offset="0.65" stop-color="#8f1ffe"/><stop offset="1" stop-color="#8000fe"/></linearGradient><linearGradient id="cg170" gradientUnits="userSpaceOnUse" x1="512" y1="137.5" x2="536.4" y2="200.3"><stop offset="0" stop-color="#fff"/><stop offset="0.1" stop-color="#e1c7ff"/><stop offset="0.35" stop-color="#ad66ff"/><stop offset="0.65" stop-color="#861fff"/><stop offset="1" stop-color="#7600ff"/></linearGradient><linearGradient id="cg171" gradientUnits="userSpaceOnUse" x1="512" y1="137.5" x2="536.4" y2="200.3"><stop offset="0" stop-color="#fff"/><stop offset="0.1" stop-color="#dfc7ff"/><stop offset="0.35" stop-color="#a866ff"/><stop offset="0.65" stop-color="#7f1fff"/><stop offset="1" stop-color="#6d00ff"/></linearGradient><linearGradient id="cg172" gradientUnits="userSpaceOnUse" x1="512" y1="137.5" x2="536.4" y2="200.3"><stop offset="0" stop-color="#fff"/><stop offset="0.1" stop-color="#ddc7ff"/><stop offset="0.35" stop-color="#a366ff"/><stop offset="0.65" stop-color="#781fff"/><stop offset="1" stop-color="#6500ff"/></linearGradient><linearGradient id="cg173" gradientUnits="userSpaceOnUse" x1="512" y1="137.5" x2="536.4" y2="200.3"><stop offset="0" stop-color="#fff"/><stop offset="0.1" stop-color="#dbc7ff"/><stop offset="0.35" stop-color="#9e66ff"/><stop offset="0.65" stop-color="#711fff"/><stop offset="1" stop-color="#5d00ff"/></linearGradient><linearGradient id="cg174" gradientUnits="userSpaceOnUse" x1="512" y1="137.5" x2="536.4" y2="200.3"><stop offset="0" stop-color="#fff"/><stop offset="0.1" stop-color="#dac7ff"/><stop offset="0.35" stop-color="#9966ff"/><stop offset="0.65" stop-color="#691fff"/><stop offset="1" stop-color="#5500ff"/></linearGradient><linearGradient id="cg175" gradientUnits="userSpaceOnUse" x1="512" y1="137.5" x2="536.4" y2="200.3"><stop offset="0" stop-color="#fff"/><stop offset="0.1" stop-color="#d8c7ff"/><stop offset="0.35" stop-color="#9466ff"/><stop offset="0.65" stop-color="#621fff"/><stop offset="1" stop-color="#4d00ff"/></linearGradient><linearGradient id="cg176" gradientUnits="userSpaceOnUse" x1="512" y1="137.5" x2="536.4" y2="200.3"><stop offset="0" stop-color="#fff"/><stop offset="0.1" stop-color="#d6c7ff"/><stop offset="0.35" stop-color="#8f66ff"/><stop offset="0.65" stop-color="#5b1fff"/><stop offset="1" stop-color="#4500ff"/></linearGradient><linearGradient id="cg177" gradientUnits="userSpaceOnUse" x1="512" y1="137.5" x2="536.4" y2="200.3"><stop offset="0" stop-color="#fff"/><stop offset="0.1" stop-color="#d4c7ff"/><stop offset="0.35" stop-color="#8a66ff"/><stop offset="0.65" stop-color="#541fff"/><stop offset="1" stop-color="#3d00ff"/></linearGradient><linearGradient id="cg178" gradientUnits="userSpaceOnUse" x1="512" y1="137.5" x2="536.4" y2="200.3"><stop offset="0" stop-color="#fff"/><stop offset="0.1" stop-color="#d2c7ff"/><stop offset="0.35" stop-color="#8566ff"/><stop offset="0.65" stop-color="#4d1fff"/><stop offset="1" stop-color="#3400ff"/></linearGradient><linearGradient id="cg179" gradientUnits="userSpaceOnUse" x1="512" y1="137.5" x2="536.4" y2="200.3"><stop offset="0" stop-color="#fff"/><stop offset="0.1" stop-color="#d1c7ff"/><stop offset="0.35" stop-color="#8166ff"/><stop offset="0.65" stop-color="#461fff"/><stop offset="1" stop-color="#2c00ff"/></linearGradient><linearGradient id="cg180" gradientUnits="userSpaceOnUse" x1="512" y1="137.5" x2="536.4" y2="200.3"><stop offset="0" stop-color="#fff"/><stop offset="0.1" stop-color="#d1c7ff"/><stop offset="0.35" stop-color="#8066ff"/><stop offset="0.65" stop-color="#451fff"/><stop offset="1" stop-color="#2c00ff"/></linearGradient></defs><path d="M512,137.5 L460.3,230.0 L459.5,229.9Z" fill="url(#cg0)" shape-rendering="crispEdges"/><path d="M512,137.5 L459.5,229.9 L457.4,228.5Z" fill="url(#cg1)" shape-rendering="crispEdges"/><path d="M512,137.5 L457.4,228.5 L455.1,226.8Z" fill="url(#cg2)" shape-rendering="crispEdges"/><path d="M512,137.5 L455.1,226.8 L451.3,223.8Z" fill="url(#cg3)" shape-rendering="crispEdges"/><path d="M512,137.5 L451.3,223.8 L449.5,221.8Z" fill="url(#cg4)" shape-rendering="crispEdges"/><path d="M512,137.5 L449.5,221.8 L447.4,219.3Z" fill="url(#cg5)" shape-rendering="crispEdges"/><path d="M512,137.5 L447.4,219.3 L445.4,216.8Z" fill="url(#cg6)" shape-rendering="crispEdges"/><path d="M512,137.5 L445.4,216.8 L443.2,213.5Z" fill="url(#cg7)" shape-rendering="crispEdges"/><path d="M512,137.5 L443.2,213.5 L441.1,209.6Z" fill="url(#cg8)" shape-rendering="crispEdges"/><path d="M512,137.5 L441.1,209.6 L439.9,207.1Z" fill="url(#cg9)" shape-rendering="crispEdges"/><path d="M512,137.5 L439.9,207.1 L438.5,204.4Z" fill="url(#cg10)" shape-rendering="crispEdges"/><path d="M512,137.5 L438.5,204.4 L437.1,201.5Z" fill="url(#cg11)" shape-rendering="crispEdges"/><path d="M512,137.5 L437.1,201.5 L435.7,198.1Z" fill="url(#cg12)" shape-rendering="crispEdges"/><path d="M512,137.5 L435.7,198.1 L434.6,195.7Z" fill="url(#cg13)" shape-rendering="crispEdges"/><path d="M512,137.5 L434.6,195.7 L433.5,193.1Z" fill="url(#cg14)" shape-rendering="crispEdges"/><path d="M512,137.5 L433.5,193.1 L432.4,190.4Z" fill="url(#cg15)" shape-rendering="crispEdges"/><path d="M512,137.5 L432.4,190.4 L431.2,187.5Z" fill="url(#cg16)" shape-rendering="crispEdges"/><path d="M512,137.5 L431.2,187.5 L430.1,184.4Z" fill="url(#cg17)" shape-rendering="crispEdges"/><path d="M512,137.5 L430.1,184.4 L428.9,181.2Z" fill="url(#cg18)" shape-rendering="crispEdges"/><path d="M512,137.5 L428.9,181.2 L428.1,178.6Z" fill="url(#cg19)" shape-rendering="crispEdges"/><path d="M512,137.5 L428.1,178.6 L427.2,175.9Z" fill="url(#cg20)" shape-rendering="crispEdges"/><path d="M512,137.5 L427.2,175.9 L426.3,173.1Z" fill="url(#cg21)" shape-rendering="crispEdges"/><path d="M512,137.5 L426.3,173.1 L425.5,170.2Z" fill="url(#cg22)" shape-rendering="crispEdges"/><path d="M512,137.5 L425.5,170.2 L424.6,167.2Z" fill="url(#cg23)" shape-rendering="crispEdges"/><path d="M512,137.5 L424.6,167.2 L423.7,164.1Z" fill="url(#cg24)" shape-rendering="crispEdges"/><path d="M512,137.5 L423.7,164.1 L422.9,160.9Z" fill="url(#cg25)" shape-rendering="crispEdges"/><path d="M512,137.5 L422.9,160.9 L422.0,157.7Z" fill="url(#cg26)" shape-rendering="crispEdges"/><path d="M512,137.5 L422.0,157.7 L421.3,155.0Z" fill="url(#cg27)" shape-rendering="crispEdges"/><path d="M512,137.5 L421.3,155.0 L420.6,152.2Z" fill="url(#cg28)" shape-rendering="crispEdges"/><path d="M512,137.5 L420.6,152.2 L420.0,149.3Z" fill="url(#cg29)" shape-rendering="crispEdges"/><path d="M512,137.5 L420.0,149.3 L419.3,146.4Z" fill="url(#cg30)" shape-rendering="crispEdges"/><path d="M512,137.5 L419.3,146.4 L418.6,143.5Z" fill="url(#cg31)" shape-rendering="crispEdges"/><path d="M512,137.5 L418.6,143.5 L417.9,140.5Z" fill="url(#cg32)" shape-rendering="crispEdges"/><path d="M512,137.5 L417.9,140.5 L417.3,137.4Z" fill="url(#cg33)" shape-rendering="crispEdges"/><path d="M512,137.5 L417.3,137.4 L416.7,134.4Z" fill="url(#cg34)" shape-rendering="crispEdges"/><path d="M512,137.5 L416.7,134.4 L416.1,131.4Z" fill="url(#cg35)" shape-rendering="crispEdges"/><path d="M512,137.5 L416.1,131.4 L415.5,128.3Z" fill="url(#cg36)" shape-rendering="crispEdges"/><path d="M512,137.5 L415.5,128.3 L414.9,125.3Z" fill="url(#cg37)" shape-rendering="crispEdges"/><path d="M512,137.5 L414.9,125.3 L414.4,122.1Z" fill="url(#cg38)" shape-rendering="crispEdges"/><path d="M512,137.5 L414.4,122.1 L413.9,119.0Z" fill="url(#cg39)" shape-rendering="crispEdges"/><path d="M512,137.5 L413.9,119.0 L413.4,115.8Z" fill="url(#cg40)" shape-rendering="crispEdges"/><path d="M512,137.5 L413.4,115.8 L412.9,112.6Z" fill="url(#cg41)" shape-rendering="crispEdges"/><path d="M512,137.5 L412.9,112.6 L412.4,109.4Z" fill="url(#cg42)" shape-rendering="crispEdges"/><path d="M512,137.5 L412.4,109.4 L412.0,106.3Z" fill="url(#cg43)" shape-rendering="crispEdges"/><path d="M512,137.5 L412.0,106.3 L411.6,103.1Z" fill="url(#cg44)" shape-rendering="crispEdges"/><path d="M512,137.5 L411.6,103.1 L411.3,100.0Z" fill="url(#cg45)" shape-rendering="crispEdges"/><path d="M512,137.5 L411.3,100.0 L410.9,97.0Z" fill="url(#cg46)" shape-rendering="crispEdges"/><path d="M512,137.5 L410.9,97.0 L410.6,93.6Z" fill="url(#cg47)" shape-rendering="crispEdges"/><path d="M512,137.5 L410.6,93.6 L410.4,90.3Z" fill="url(#cg48)" shape-rendering="crispEdges"/><path d="M512,137.5 L410.4,90.3 L410.1,86.9Z" fill="url(#cg49)" shape-rendering="crispEdges"/><path d="M512,137.5 L410.1,86.9 L409.9,83.6Z" fill="url(#cg50)" shape-rendering="crispEdges"/><path d="M512,137.5 L409.9,83.6 L409.8,80.4Z" fill="url(#cg51)" shape-rendering="crispEdges"/><path d="M512,137.5 L409.8,80.4 L409.7,77.2Z" fill="url(#cg52)" shape-rendering="crispEdges"/><path d="M512,137.5 L409.7,77.2 L409.6,74.0Z" fill="url(#cg53)" shape-rendering="crispEdges"/><path d="M512,137.5 L409.6,74.0 L409.6,70.9Z" fill="url(#cg54)" shape-rendering="crispEdges"/><path d="M512,137.5 L409.6,70.9 L409.7,68.0Z" fill="url(#cg55)" shape-rendering="crispEdges"/><path d="M512,137.5 L409.7,68.0 L409.8,64.2Z" fill="url(#cg56)" shape-rendering="crispEdges"/><path d="M512,137.5 L409.8,64.2 L410.1,60.5Z" fill="url(#cg57)" shape-rendering="crispEdges"/><path d="M512,137.5 L410.1,60.5 L410.4,57.0Z" fill="url(#cg58)" shape-rendering="crispEdges"/><path d="M512,137.5 L410.4,57.0 L410.8,53.5Z" fill="url(#cg59)" shape-rendering="crispEdges"/><path d="M512,137.5 L410.8,53.5 L411.3,50.2Z" fill="url(#cg60)" shape-rendering="crispEdges"/><path d="M512,137.5 L411.3,50.2 L411.9,47.1Z" fill="url(#cg61)" shape-rendering="crispEdges"/><path d="M512,137.5 L411.9,47.1 L412.6,44.2Z" fill="url(#cg62)" shape-rendering="crispEdges"/><path d="M512,137.5 L412.6,44.2 L413.8,40.4Z" fill="url(#cg63)" shape-rendering="crispEdges"/><path d="M512,137.5 L413.8,40.4 L415.1,36.9Z" fill="url(#cg64)" shape-rendering="crispEdges"/><path d="M512,137.5 L415.1,36.9 L416.7,33.8Z" fill="url(#cg65)" shape-rendering="crispEdges"/><path d="M512,137.5 L416.7,33.8 L418.3,31.1Z" fill="url(#cg66)" shape-rendering="crispEdges"/><path d="M512,137.5 L418.3,31.1 L420.1,28.8Z" fill="url(#cg67)" shape-rendering="crispEdges"/><path d="M512,137.5 L420.1,28.8 L423.3,25.9Z" fill="url(#cg68)" shape-rendering="crispEdges"/><path d="M512,137.5 L423.3,25.9 L426.9,24.2Z" fill="url(#cg69)" shape-rendering="crispEdges"/><path d="M512,137.5 L426.9,24.2 L430.6,23.3Z" fill="url(#cg70)" shape-rendering="crispEdges"/><path d="M512,137.5 L430.6,23.3 L433.5,23.2Z" fill="url(#cg71)" shape-rendering="crispEdges"/><path d="M512,137.5 L433.5,23.2 L436.4,23.6Z" fill="url(#cg72)" shape-rendering="crispEdges"/><path d="M512,137.5 L436.4,23.6 L439.5,24.4Z" fill="url(#cg73)" shape-rendering="crispEdges"/><path d="M512,137.5 L439.5,24.4 L442.5,25.2Z" fill="url(#cg74)" shape-rendering="crispEdges"/><path d="M512,137.5 L442.5,25.2 L445.5,26.2Z" fill="url(#cg75)" shape-rendering="crispEdges"/><path d="M512,137.5 L445.5,26.2 L448.5,27.5Z" fill="url(#cg76)" shape-rendering="crispEdges"/><path d="M512,137.5 L448.5,27.5 L451.6,28.9Z" fill="url(#cg77)" shape-rendering="crispEdges"/><path d="M512,137.5 L451.6,28.9 L454.5,30.3Z" fill="url(#cg78)" shape-rendering="crispEdges"/><path d="M512,137.5 L454.5,30.3 L457.4,31.7Z" fill="url(#cg79)" shape-rendering="crispEdges"/><path d="M512,137.5 L457.4,31.7 L460.3,33.2Z" fill="url(#cg80)" shape-rendering="crispEdges"/><path d="M512,137.5 L460.3,33.2 L463.1,34.8Z" fill="url(#cg81)" shape-rendering="crispEdges"/><path d="M512,137.5 L463.1,34.8 L465.9,36.3Z" fill="url(#cg82)" shape-rendering="crispEdges"/><path d="M512,137.5 L465.9,36.3 L468.7,38.0Z" fill="url(#cg83)" shape-rendering="crispEdges"/><path d="M512,137.5 L468.7,38.0 L471.4,39.7Z" fill="url(#cg84)" shape-rendering="crispEdges"/><path d="M512,137.5 L471.4,39.7 L474.1,41.4Z" fill="url(#cg85)" shape-rendering="crispEdges"/><path d="M512,137.5 L474.1,41.4 L476.8,43.2Z" fill="url(#cg86)" shape-rendering="crispEdges"/><path d="M512,137.5 L476.8,43.2 L479.5,45.0Z" fill="url(#cg87)" shape-rendering="crispEdges"/><path d="M512,137.5 L479.5,45.0 L482.2,46.8Z" fill="url(#cg88)" shape-rendering="crispEdges"/><path d="M512,137.5 L482.2,46.8 L484.9,48.7Z" fill="url(#cg89)" shape-rendering="crispEdges"/><path d="M512,137.5 L484.9,48.7 L487.6,50.6Z" fill="url(#cg90)" shape-rendering="crispEdges"/><path d="M512,137.5 L487.6,50.6 L490.2,52.6Z" fill="url(#cg91)" shape-rendering="crispEdges"/><path d="M512,137.5 L490.2,52.6 L492.9,54.6Z" fill="url(#cg92)" shape-rendering="crispEdges"/><path d="M512,137.5 L492.9,54.6 L495.6,56.6Z" fill="url(#cg93)" shape-rendering="crispEdges"/><path d="M512,137.5 L495.6,56.6 L498.2,58.6Z" fill="url(#cg94)" shape-rendering="crispEdges"/><path d="M512,137.5 L498.2,58.6 L500.9,60.7Z" fill="url(#cg95)" shape-rendering="crispEdges"/><path d="M512,137.5 L500.9,60.7 L503.5,62.7Z" fill="url(#cg96)" shape-rendering="crispEdges"/><path d="M512,137.5 L503.5,62.7 L506.2,64.8Z" fill="url(#cg97)" shape-rendering="crispEdges"/><path d="M512,137.5 L506.2,64.8 L508.8,66.9Z" fill="url(#cg98)" shape-rendering="crispEdges"/><path d="M512,137.5 L508.8,66.9 L511.5,69.1Z" fill="url(#cg99)" shape-rendering="crispEdges"/><path d="M512,137.5 L511.5,69.1 L514.2,71.2Z" fill="url(#cg100)" shape-rendering="crispEdges"/><path d="M512,137.5 L514.2,71.2 L516.8,73.4Z" fill="url(#cg101)" shape-rendering="crispEdges"/><path d="M512,137.5 L516.8,73.4 L519.5,75.5Z" fill="url(#cg102)" shape-rendering="crispEdges"/><path d="M512,137.5 L519.5,75.5 L522.2,77.7Z" fill="url(#cg103)" shape-rendering="crispEdges"/><path d="M512,137.5 L522.2,77.7 L524.8,79.9Z" fill="url(#cg104)" shape-rendering="crispEdges"/><path d="M512,137.5 L524.8,79.9 L527.4,82.0Z" fill="url(#cg105)" shape-rendering="crispEdges"/><path d="M512,137.5 L527.4,82.0 L530.1,84.2Z" fill="url(#cg106)" shape-rendering="crispEdges"/><path d="M512,137.5 L530.1,84.2 L532.7,86.4Z" fill="url(#cg107)" shape-rendering="crispEdges"/><path d="M512,137.5 L532.7,86.4 L535.4,88.6Z" fill="url(#cg108)" shape-rendering="crispEdges"/><path d="M512,137.5 L535.4,88.6 L538.0,90.7Z" fill="url(#cg109)" shape-rendering="crispEdges"/><path d="M512,137.5 L538.0,90.7 L540.6,92.9Z" fill="url(#cg110)" shape-rendering="crispEdges"/><path d="M512,137.5 L540.6,92.9 L543.2,95.1Z" fill="url(#cg111)" shape-rendering="crispEdges"/><path d="M512,137.5 L543.2,95.1 L545.8,97.2Z" fill="url(#cg112)" shape-rendering="crispEdges"/><path d="M512,137.5 L545.8,97.2 L548.4,99.4Z" fill="url(#cg113)" shape-rendering="crispEdges"/><path d="M512,137.5 L548.4,99.4 L550.9,101.5Z" fill="url(#cg114)" shape-rendering="crispEdges"/><path d="M512,137.5 L550.9,101.5 L553.5,103.6Z" fill="url(#cg115)" shape-rendering="crispEdges"/><path d="M512,137.5 L553.5,103.6 L556.0,105.7Z" fill="url(#cg116)" shape-rendering="crispEdges"/><path d="M512,137.5 L556.0,105.7 L558.5,107.8Z" fill="url(#cg117)" shape-rendering="crispEdges"/><path d="M512,137.5 L558.5,107.8 L561.0,109.9Z" fill="url(#cg118)" shape-rendering="crispEdges"/><path d="M512,137.5 L561.0,109.9 L563.4,111.9Z" fill="url(#cg119)" shape-rendering="crispEdges"/><path d="M512,137.5 L563.4,111.9 L565.8,114.0Z" fill="url(#cg120)" shape-rendering="crispEdges"/><path d="M512,137.5 L565.8,114.0 L568.2,116.0Z" fill="url(#cg121)" shape-rendering="crispEdges"/><path d="M512,137.5 L568.2,116.0 L570.6,117.9Z" fill="url(#cg122)" shape-rendering="crispEdges"/><path d="M512,137.5 L570.6,117.9 L573.7,120.5Z" fill="url(#cg123)" shape-rendering="crispEdges"/><path d="M512,137.5 L573.7,120.5 L576.7,123.0Z" fill="url(#cg124)" shape-rendering="crispEdges"/><path d="M512,137.5 L576.7,123.0 L579.6,125.4Z" fill="url(#cg125)" shape-rendering="crispEdges"/><path d="M512,137.5 L579.6,125.4 L582.5,127.8Z" fill="url(#cg126)" shape-rendering="crispEdges"/><path d="M512,137.5 L582.5,127.8 L585.2,130.1Z" fill="url(#cg127)" shape-rendering="crispEdges"/><path d="M512,137.5 L585.2,130.1 L587.9,132.4Z" fill="url(#cg128)" shape-rendering="crispEdges"/><path d="M512,137.5 L587.9,132.4 L590.2,134.3Z" fill="url(#cg129)" shape-rendering="crispEdges"/><path d="M512,137.5 L590.2,134.3 L592.4,136.1Z" fill="url(#cg130)" shape-rendering="crispEdges"/><path d="M512,137.5 L592.4,136.1 L595.0,138.3Z" fill="url(#cg131)" shape-rendering="crispEdges"/><path d="M512,137.5 L595.0,138.3 L597.1,140.1Z" fill="url(#cg132)" shape-rendering="crispEdges"/><path d="M512,137.5 L597.1,140.1 L599.5,142.1Z" fill="url(#cg133)" shape-rendering="crispEdges"/><path d="M512,137.5 L599.5,142.1 L602.0,144.2Z" fill="url(#cg134)" shape-rendering="crispEdges"/><path d="M512,137.5 L602.0,144.2 L604.4,146.2Z" fill="url(#cg135)" shape-rendering="crispEdges"/><path d="M512,137.5 L604.4,146.2 L606.6,147.9Z" fill="url(#cg136)" shape-rendering="crispEdges"/><path d="M512,137.5 L606.6,147.9 L609.5,150.4Z" fill="url(#cg137)" shape-rendering="crispEdges"/><path d="M512,137.5 L609.5,150.4 L612.0,152.5Z" fill="url(#cg138)" shape-rendering="crispEdges"/><path d="M512,137.5 L612.0,152.5 L614.2,154.3Z" fill="url(#cg139)" shape-rendering="crispEdges"/><path d="M512,137.5 L614.2,154.3 L616.9,156.6Z" fill="url(#cg140)" shape-rendering="crispEdges"/><path d="M512,137.5 L616.9,156.6 L619.1,158.4Z" fill="url(#cg141)" shape-rendering="crispEdges"/><path d="M512,137.5 L619.1,158.4 L622.4,161.2Z" fill="url(#cg142)" shape-rendering="crispEdges"/><path d="M512,137.5 L622.4,161.2 L625.7,163.9Z" fill="url(#cg143)" shape-rendering="crispEdges"/><path d="M512,137.5 L625.7,163.9 L627.1,165.1Z" fill="url(#cg144)" shape-rendering="crispEdges"/><path d="M512,137.5 L627.1,165.1 L622.4,166.9Z" fill="url(#cg145)" shape-rendering="crispEdges"/><path d="M512,137.5 L622.4,166.9 L617.8,168.7Z" fill="url(#cg146)" shape-rendering="crispEdges"/><path d="M512,137.5 L617.8,168.7 L613.2,170.5Z" fill="url(#cg147)" shape-rendering="crispEdges"/><path d="M512,137.5 L613.2,170.5 L608.5,172.3Z" fill="url(#cg148)" shape-rendering="crispEdges"/><path d="M512,137.5 L608.5,172.3 L603.9,174.1Z" fill="url(#cg149)" shape-rendering="crispEdges"/><path d="M512,137.5 L603.9,174.1 L599.3,175.9Z" fill="url(#cg150)" shape-rendering="crispEdges"/><path d="M512,137.5 L599.3,175.9 L594.6,177.7Z" fill="url(#cg151)" shape-rendering="crispEdges"/><path d="M512,137.5 L594.6,177.7 L590.0,179.5Z" fill="url(#cg152)" shape-rendering="crispEdges"/><path d="M512,137.5 L590.0,179.5 L585.4,181.3Z" fill="url(#cg153)" shape-rendering="crispEdges"/><path d="M512,137.5 L585.4,181.3 L580.7,183.1Z" fill="url(#cg154)" shape-rendering="crispEdges"/><path d="M512,137.5 L580.7,183.1 L576.1,184.9Z" fill="url(#cg155)" shape-rendering="crispEdges"/><path d="M512,137.5 L576.1,184.9 L571.5,186.7Z" fill="url(#cg156)" shape-rendering="crispEdges"/><path d="M512,137.5 L571.5,186.7 L566.8,188.5Z" fill="url(#cg157)" shape-rendering="crispEdges"/><path d="M512,137.5 L566.8,188.5 L562.2,190.3Z" fill="url(#cg158)" shape-rendering="crispEdges"/><path d="M512,137.5 L562.2,190.3 L557.6,192.1Z" fill="url(#cg159)" shape-rendering="crispEdges"/><path d="M512,137.5 L557.6,192.1 L552.9,193.9Z" fill="url(#cg160)" shape-rendering="crispEdges"/><path d="M512,137.5 L552.9,193.9 L548.3,195.7Z" fill="url(#cg161)" shape-rendering="crispEdges"/><path d="M512,137.5 L548.3,195.7 L543.7,197.5Z" fill="url(#cg162)" shape-rendering="crispEdges"/><path d="M512,137.5 L543.7,197.5 L539.1,199.3Z" fill="url(#cg163)" shape-rendering="crispEdges"/><path d="M512,137.5 L539.1,199.3 L534.4,201.1Z" fill="url(#cg164)" shape-rendering="crispEdges"/><path d="M512,137.5 L534.4,201.1 L529.8,202.9Z" fill="url(#cg165)" shape-rendering="crispEdges"/><path d="M512,137.5 L529.8,202.9 L525.2,204.7Z" fill="url(#cg166)" shape-rendering="crispEdges"/><path d="M512,137.5 L525.2,204.7 L520.5,206.5Z" fill="url(#cg167)" shape-rendering="crispEdges"/><path d="M512,137.5 L520.5,206.5 L515.9,208.3Z" fill="url(#cg168)" shape-rendering="crispEdges"/><path d="M512,137.5 L515.9,208.3 L511.3,210.1Z" fill="url(#cg169)" shape-rendering="crispEdges"/><path d="M512,137.5 L511.3,210.1 L506.6,211.9Z" fill="url(#cg170)" shape-rendering="crispEdges"/><path d="M512,137.5 L506.6,211.9 L502.0,213.7Z" fill="url(#cg171)" shape-rendering="crispEdges"/><path d="M512,137.5 L502.0,213.7 L497.4,215.5Z" fill="url(#cg172)" shape-rendering="crispEdges"/><path d="M512,137.5 L497.4,215.5 L492.7,217.3Z" fill="url(#cg173)" shape-rendering="crispEdges"/><path d="M512,137.5 L492.7,217.3 L488.1,219.1Z" fill="url(#cg174)" shape-rendering="crispEdges"/><path d="M512,137.5 L488.1,219.1 L483.5,220.9Z" fill="url(#cg175)" shape-rendering="crispEdges"/><path d="M512,137.5 L483.5,220.9 L478.8,222.7Z" fill="url(#cg176)" shape-rendering="crispEdges"/><path d="M512,137.5 L478.8,222.7 L474.2,224.5Z" fill="url(#cg177)" shape-rendering="crispEdges"/><path d="M512,137.5 L474.2,224.5 L469.6,226.3Z" fill="url(#cg178)" shape-rendering="crispEdges"/><path d="M512,137.5 L469.6,226.3 L464.9,228.2Z" fill="url(#cg179)" shape-rendering="crispEdges"/><path d="M512,137.5 L464.9,228.2 L460.3,230.0Z" fill="url(#cg180)" shape-rendering="crispEdges"/></g>
<text x="1.0" y="24.0" font-size="22.5" font-weight="bold" fill="#000" text-anchor="start" textLength="25" lengthAdjust="spacingAndGlyphs" >(a)</text>
<rect x="37" y="6" width="307.5" height="248.5" fill="none" stroke="#333" stroke-width="1.4"/>
<line x1="77.2" y1="16.0" x2="77.2" y2="229.4" stroke="#000" stroke-width="1.2" />
<line x1="77.2" y1="229.4" x2="80.0" y2="229.4" stroke="#000" stroke-width="1.2" />
<line x1="73.5" y1="229.4" x2="77.2" y2="229.4" stroke="#000" stroke-width="1.2" />
<line x1="74.8" y1="202.7" x2="77.2" y2="202.7" stroke="#000" stroke-width="1" />
<line x1="73.5" y1="176.1" x2="77.2" y2="176.1" stroke="#000" stroke-width="1.2" />
<line x1="74.8" y1="149.4" x2="77.2" y2="149.4" stroke="#000" stroke-width="1" />
<line x1="73.5" y1="122.7" x2="77.2" y2="122.7" stroke="#000" stroke-width="1.2" />
<line x1="74.8" y1="96.0" x2="77.2" y2="96.0" stroke="#000" stroke-width="1" />
<line x1="73.5" y1="69.3" x2="77.2" y2="69.3" stroke="#000" stroke-width="1.2" />
<line x1="74.8" y1="42.6" x2="77.2" y2="42.6" stroke="#000" stroke-width="1" />
<line x1="73.5" y1="16.0" x2="77.2" y2="16.0" stroke="#000" stroke-width="1.2" />
<text x="73.0" y="231.7" font-size="6.5" font-weight="bold" fill="#000" text-anchor="end" >0</text>
<text x="56.0" y="178.6" font-size="6.5" font-weight="bold" fill="#000" text-anchor="start" textLength="15.8" lengthAdjust="spacingAndGlyphs" >1x10</text>
<text x="71.9" y="175.6" font-size="4.5" font-weight="bold" fill="#000" text-anchor="start" >4</text>
<text x="56.0" y="125.2" font-size="6.5" font-weight="bold" fill="#000" text-anchor="start" textLength="15.8" lengthAdjust="spacingAndGlyphs" >2x10</text>
<text x="71.9" y="122.2" font-size="4.5" font-weight="bold" fill="#000" text-anchor="start" >4</text>
<text x="56.0" y="71.8" font-size="6.5" font-weight="bold" fill="#000" text-anchor="start" textLength="15.8" lengthAdjust="spacingAndGlyphs" >3x10</text>
<text x="71.9" y="68.8" font-size="4.5" font-weight="bold" fill="#000" text-anchor="start" >4</text>
<text x="56.0" y="18.5" font-size="6.5" font-weight="bold" fill="#000" text-anchor="start" textLength="15.8" lengthAdjust="spacingAndGlyphs" >4x10</text>
<text x="71.9" y="15.5" font-size="4.5" font-weight="bold" fill="#000" text-anchor="start" >4</text>
<text x="49.4" y="129.2" font-size="8.5" font-weight="bold" fill="#000" text-anchor="start" textLength="30.5" lengthAdjust="spacingAndGlyphs" transform="rotate(-90 49.4 129.2)" >Energy (cm</text>
<text x="46.2" y="98.4" font-size="5.5" font-weight="bold" fill="#000" text-anchor="start" textLength="4.5" lengthAdjust="spacingAndGlyphs" transform="rotate(-90 46.2 98.4)" >-1</text>
<text x="49.4" y="94.0" font-size="8.5" font-weight="bold" fill="#000" text-anchor="start" textLength="3" lengthAdjust="spacingAndGlyphs" transform="rotate(-90 49.4 94.0)" >)</text>
<text x="355.0" y="20.2" font-size="23.8" font-weight="bold" fill="#000" text-anchor="start" textLength="27.4" lengthAdjust="spacingAndGlyphs" >(b)</text>
<rect x="408.5" y="6.9" width="238" height="224.3" fill="none" stroke="#000" stroke-width="2"/>
<line x1="408.5" y1="231.2" x2="408.5" y2="237.5" stroke="#000" stroke-width="2" />
<text x="408.5" y="248.9" font-size="12.2" font-weight="bold" fill="#000" text-anchor="middle" >0</text>
<line x1="468.0" y1="231.2" x2="468.0" y2="237.5" stroke="#000" stroke-width="2" />
<text x="468.0" y="248.9" font-size="12.2" font-weight="bold" fill="#000" text-anchor="middle" >0.2</text>
<line x1="527.5" y1="231.2" x2="527.5" y2="237.5" stroke="#000" stroke-width="2" />
<text x="527.5" y="248.9" font-size="12.2" font-weight="bold" fill="#000" text-anchor="middle" >0.4</text>
<line x1="587.0" y1="231.2" x2="587.0" y2="237.5" stroke="#000" stroke-width="2" />
<text x="587.0" y="248.9" font-size="12.2" font-weight="bold" fill="#000" text-anchor="middle" >0.6</text>
<line x1="646.5" y1="231.2" x2="646.5" y2="237.5" stroke="#000" stroke-width="2" />
<text x="646.5" y="248.9" font-size="12.2" font-weight="bold" fill="#000" text-anchor="middle" >0.8</text>
<line x1="402.5" y1="231.2" x2="408.5" y2="231.2" stroke="#000" stroke-width="2" />
<text x="401.5" y="235.5" font-size="12.2" font-weight="bold" fill="#000" text-anchor="end" >0</text>
<line x1="402.5" y1="156.4" x2="408.5" y2="156.4" stroke="#000" stroke-width="2" />
<text x="401.5" y="160.7" font-size="12.2" font-weight="bold" fill="#000" text-anchor="end" >0.3</text>
<line x1="402.5" y1="81.6" x2="408.5" y2="81.6" stroke="#000" stroke-width="2" />
<text x="401.5" y="85.9" font-size="12.2" font-weight="bold" fill="#000" text-anchor="end" >0.6</text>
<line x1="402.5" y1="6.9" x2="408.5" y2="6.9" stroke="#000" stroke-width="2" />
<text x="401.5" y="11.2" font-size="12.2" font-weight="bold" fill="#000" text-anchor="end" >0.9</text>
<text x="527.6" y="265.6" font-size="14.5" font-weight="bold" fill="#000" text-anchor="middle" textLength="38.8" lengthAdjust="spacingAndGlyphs" >CIE X</text>
<text x="383.0" y="119.0" font-size="14" font-weight="bold" fill="#000" text-anchor="middle" transform="rotate(-90 383.0 119.0)" >CIE Y</text>
<text x="2.5" y="299.6" font-size="22.5" font-weight="bold" fill="#000" text-anchor="start" textLength="24" lengthAdjust="spacingAndGlyphs" >(c)</text>
<rect x="103" y="286" width="242.8" height="199.5" fill="none" stroke="#000" stroke-width="2.2"/>
<line x1="114.8" y1="485.5" x2="114.8" y2="490.5" stroke="#000" stroke-width="2" />
<text x="114.8" y="501.8" font-size="11.5" font-weight="bold" fill="#000" text-anchor="middle" >0</text>
<line x1="169.7" y1="485.5" x2="169.7" y2="490.5" stroke="#000" stroke-width="2" />
<text x="169.7" y="501.8" font-size="11.5" font-weight="bold" fill="#000" text-anchor="middle" >2</text>
<line x1="224.6" y1="485.5" x2="224.6" y2="490.5" stroke="#000" stroke-width="2" />
<text x="224.6" y="501.8" font-size="11.5" font-weight="bold" fill="#000" text-anchor="middle" >5</text>
<line x1="279.5" y1="485.5" x2="279.5" y2="490.5" stroke="#000" stroke-width="2" />
<text x="279.5" y="501.8" font-size="11.5" font-weight="bold" fill="#000" text-anchor="middle" >7</text>
<line x1="334.4" y1="485.5" x2="334.4" y2="490.5" stroke="#000" stroke-width="2" />
<text x="334.4" y="501.8" font-size="11.5" font-weight="bold" fill="#000" text-anchor="middle" >10</text>
<line x1="97.0" y1="478.4" x2="103.0" y2="478.4" stroke="#000" stroke-width="2" />
<line x1="97.0" y1="394.2" x2="103.0" y2="394.2" stroke="#000" stroke-width="2" />
<line x1="97.0" y1="311.0" x2="103.0" y2="311.0" stroke="#000" stroke-width="2" />
<text x="96.5" y="481.5" font-size="10" font-weight="bold" fill="#000" text-anchor="end" >0.0</text>
<text x="89.0" y="397.6" font-size="10" font-weight="bold" fill="#000" text-anchor="end" >5.0x10</text>
<text x="89.5" y="391.2" font-size="6.2" font-weight="bold" fill="#000" text-anchor="start" >9</text>
<text x="85.0" y="314.6" font-size="10" font-weight="bold" fill="#000" text-anchor="end" >1.0x10</text>
<text x="85.6" y="308.6" font-size="6.2" font-weight="bold" fill="#000" text-anchor="start" >10</text>
<text x="136.6" y="518.8" font-size="14.3" font-weight="bold" fill="#000" text-anchor="start" >Li<tspan dx="1.5" dy="-9.5" font-size="12">+</tspan><tspan dx="1.5" dy="9.5"> Concentration (at%)</tspan></text>
<text x="50.5" y="389.8" font-size="14" font-weight="bold" fill="#000" text-anchor="middle" transform="rotate(-90 50.5 389.8)" >Integrated Area (A<tspan dy="2.5" font-size="10">2</tspan><tspan dy="-2.5">in a.u.)</tspan></text>
<text x="348.0" y="299.6" font-size="23.2" font-weight="bold" fill="#000" text-anchor="start" textLength="27.5" lengthAdjust="spacingAndGlyphs" >(d)</text>
<rect x="391.5" y="284.6" width="241.5" height="201.6" fill="none" stroke="#000" stroke-width="2.2"/>
<line x1="402.9" y1="486.0" x2="402.9" y2="491.0" stroke="#000" stroke-width="2" />
<text x="402.9" y="502.3" font-size="11.5" font-weight="bold" fill="#000" text-anchor="middle" >0</text>
<line x1="430.3" y1="486.0" x2="430.3" y2="489.5" stroke="#000" stroke-width="1.6" />
<line x1="457.8" y1="486.0" x2="457.8" y2="491.0" stroke="#000" stroke-width="2" />
<text x="457.8" y="502.3" font-size="11.5" font-weight="bold" fill="#000" text-anchor="middle" >2</text>
<line x1="485.2" y1="486.0" x2="485.2" y2="489.5" stroke="#000" stroke-width="1.6" />
<line x1="512.7" y1="486.0" x2="512.7" y2="491.0" stroke="#000" stroke-width="2" />
<text x="512.7" y="502.3" font-size="11.5" font-weight="bold" fill="#000" text-anchor="middle" >5</text>
<line x1="540.1" y1="486.0" x2="540.1" y2="489.5" stroke="#000" stroke-width="1.6" />
<line x1="567.6" y1="486.0" x2="567.6" y2="491.0" stroke="#000" stroke-width="2" />
<text x="567.6" y="502.3" font-size="11.5" font-weight="bold" fill="#000" text-anchor="middle" >7</text>
<line x1="595.0" y1="486.0" x2="595.0" y2="489.5" stroke="#000" stroke-width="1.6" />
<line x1="622.5" y1="486.0" x2="622.5" y2="491.0" stroke="#000" stroke-width="2" />
<text x="622.5" y="502.3" font-size="11.5" font-weight="bold" fill="#000" text-anchor="middle" >10</text>
<line x1="386.5" y1="486.2" x2="391.5" y2="486.2" stroke="#000" stroke-width="2" />
<text x="385.5" y="490.3" font-size="11.2" font-weight="bold" fill="#000" text-anchor="end" >11</text>
<line x1="388.5" y1="466.1" x2="391.5" y2="466.1" stroke="#000" stroke-width="1.6" />
<line x1="386.5" y1="445.9" x2="391.5" y2="445.9" stroke="#000" stroke-width="2" />
<text x="385.5" y="450.0" font-size="11.2" font-weight="bold" fill="#000" text-anchor="end" >12</text>
<line x1="388.5" y1="425.8" x2="391.5" y2="425.8" stroke="#000" stroke-width="1.6" />
<line x1="386.5" y1="405.6" x2="391.5" y2="405.6" stroke="#000" stroke-width="2" />
<text x="385.5" y="409.7" font-size="11.2" font-weight="bold" fill="#000" text-anchor="end" >13</text>
<line x1="388.5" y1="385.5" x2="391.5" y2="385.5" stroke="#000" stroke-width="1.6" />
<line x1="386.5" y1="365.3" x2="391.5" y2="365.3" stroke="#000" stroke-width="2" />
<text x="385.5" y="369.4" font-size="11.2" font-weight="bold" fill="#000" text-anchor="end" >14</text>
<line x1="388.5" y1="345.2" x2="391.5" y2="345.2" stroke="#000" stroke-width="1.6" />
<line x1="386.5" y1="325.0" x2="391.5" y2="325.0" stroke="#000" stroke-width="2" />
<text x="385.5" y="329.1" font-size="11.2" font-weight="bold" fill="#000" text-anchor="end" >15</text>
<line x1="388.5" y1="304.9" x2="391.5" y2="304.9" stroke="#000" stroke-width="1.6" />
<line x1="386.5" y1="284.7" x2="391.5" y2="284.7" stroke="#000" stroke-width="2" />
<text x="385.5" y="288.8" font-size="11.2" font-weight="bold" fill="#000" text-anchor="end" >16</text>
<text x="455.0" y="519.7" font-size="14.3" font-weight="bold" fill="#000" text-anchor="start" >Li<tspan dx="1.5" dy="-9.5" font-size="12">+</tspan><tspan dx="1.5" dy="9.5"> Concentration (at%)</tspan></text>
<text x="362.0" y="391.3" font-size="14" font-weight="bold" fill="#000" text-anchor="middle" textLength="114.6" lengthAdjust="spacingAndGlyphs" transform="rotate(-90 362.0 391.3)" >Asymmetry Ratio</text>
<path d="M115.4,462.5 C120.5,463.6 136.9,469.2 146.0,469.1 C155.1,469.0 162.5,465.1 170.0,462.0 C177.5,458.9 183.6,454.8 190.8,450.4 C198.0,446.0 204.3,440.1 213.2,435.5 C222.1,430.9 233.8,423.1 244.3,422.5 C254.8,421.9 265.8,427.4 276.0,431.8 C286.2,436.2 296.3,442.7 305.8,448.6 C315.3,454.5 328.5,463.9 333.0,467.0" fill="none" stroke="#5ccc2c" stroke-width="2.4" stroke-dasharray="9,4,2.5,4,2.5,4"/>
<path d="M115.4,469.1 C120.5,470.4 136.9,476.5 146.0,476.6 C155.1,476.8 162.5,474.4 170.0,470.0 C177.5,465.6 183.6,457.1 190.8,450.4 C198.0,443.7 204.6,436.2 213.2,430.0 C221.8,423.8 231.9,413.4 242.4,413.1 C252.9,412.8 265.4,422.4 276.0,428.0 C286.6,433.6 296.3,440.0 305.8,446.7 C315.3,453.4 328.5,464.4 333.0,468.0" fill="none" stroke="#f5902a" stroke-width="2.6" stroke-dasharray="10,5"/>
<path d="M115.4,462.4 C117.8,464.3 124.3,471.0 130.0,474.0 C135.7,477.0 143.1,481.7 149.8,480.3 C156.5,478.9 164.7,473.5 170.3,465.4 C175.9,457.3 178.4,446.7 183.4,431.8 C188.4,416.9 195.1,392.6 200.1,375.8 C205.1,359.0 208.9,342.6 213.2,331.0 C217.5,319.4 221.4,310.5 226.0,306.0 C230.6,301.5 234.7,301.2 240.5,303.8 C246.3,306.4 254.8,312.5 261.0,321.7 C267.2,330.9 272.2,345.9 277.8,359.0 C283.4,372.1 288.7,386.6 294.6,400.0 C300.5,413.4 306.9,428.1 313.3,439.3 C319.7,450.6 329.7,462.8 333.0,467.5" fill="none" stroke="#8a22e0" stroke-width="2.6" stroke-dasharray="11,5,2.5,5"/>
<defs><radialGradient id="g1" cx="0.35" cy="0.3" r="0.75"><stop offset="0" stop-color="#b0b0ff"/><stop offset="0.35" stop-color="#1a1ab0"/><stop offset="1" stop-color="#08084a"/></radialGradient></defs>
<circle cx="114.9" cy="470.7" r="4.0" fill="url(#g1)"/>
<defs><radialGradient id="g2" cx="0.35" cy="0.3" r="0.75"><stop offset="0" stop-color="#c8c8c8"/><stop offset="0.35" stop-color="#111"/><stop offset="1" stop-color="#000"/></radialGradient></defs>
<circle cx="114.9" cy="463.3" r="4.0" fill="url(#g2)"/>
<defs><radialGradient id="g3" cx="0.35" cy="0.3" r="0.75"><stop offset="0" stop-color="#b8f0b8"/><stop offset="0.35" stop-color="#1a9a1a"/><stop offset="1" stop-color="#0a4a0a"/></radialGradient></defs>
<circle cx="114.9" cy="460.2" r="4.0" fill="url(#g3)"/>
<defs><radialGradient id="g4" cx="0.35" cy="0.3" r="0.75"><stop offset="0" stop-color="#b0b0ff"/><stop offset="0.35" stop-color="#1a1ab0"/><stop offset="1" stop-color="#08084a"/></radialGradient></defs>
<circle cx="169.7" cy="470.7" r="4.0" fill="url(#g4)"/>
<defs><radialGradient id="g5" cx="0.35" cy="0.3" r="0.75"><stop offset="0" stop-color="#c8c8c8"/><stop offset="0.35" stop-color="#111"/><stop offset="1" stop-color="#000"/></radialGradient></defs>
<circle cx="169.7" cy="464.5" r="4.0" fill="url(#g5)"/>
<defs><radialGradient id="g6" cx="0.35" cy="0.3" r="0.75"><stop offset="0" stop-color="#b8f0b8"/><stop offset="0.35" stop-color="#1a9a1a"/><stop offset="1" stop-color="#0a4a0a"/></radialGradient></defs>
<circle cx="169.7" cy="460.2" r="4.0" fill="url(#g6)"/>
<defs><radialGradient id="g7" cx="0.35" cy="0.3" r="0.75"><stop offset="0" stop-color="#b0b0ff"/><stop offset="0.35" stop-color="#1a1ab0"/><stop offset="1" stop-color="#08084a"/></radialGradient></defs>
<circle cx="224.5" cy="420.6" r="4.0" fill="url(#g7)"/>
<defs><radialGradient id="g8" cx="0.35" cy="0.3" r="0.75"><stop offset="0" stop-color="#c8c8c8"/><stop offset="0.35" stop-color="#111"/><stop offset="1" stop-color="#000"/></radialGradient></defs>
<circle cx="224.5" cy="427.3" r="4.0" fill="url(#g8)"/>
<defs><radialGradient id="g9" cx="0.35" cy="0.3" r="0.75"><stop offset="0" stop-color="#b8f0b8"/><stop offset="0.35" stop-color="#1a9a1a"/><stop offset="1" stop-color="#0a4a0a"/></radialGradient></defs>
<circle cx="224.5" cy="312.4" r="4.0" fill="url(#g9)"/>
<defs><radialGradient id="g10" cx="0.35" cy="0.3" r="0.75"><stop offset="0" stop-color="#b0b0ff"/><stop offset="0.35" stop-color="#1a1ab0"/><stop offset="1" stop-color="#08084a"/></radialGradient></defs>
<circle cx="279.7" cy="426.6" r="4.0" fill="url(#g10)"/>
<defs><radialGradient id="g11" cx="0.35" cy="0.3" r="0.75"><stop offset="0" stop-color="#c8c8c8"/><stop offset="0.35" stop-color="#111"/><stop offset="1" stop-color="#000"/></radialGradient></defs>
<circle cx="279.7" cy="432.5" r="4.0" fill="url(#g11)"/>
<defs><radialGradient id="g12" cx="0.35" cy="0.3" r="0.75"><stop offset="0" stop-color="#b8f0b8"/><stop offset="0.35" stop-color="#1a9a1a"/><stop offset="1" stop-color="#0a4a0a"/></radialGradient></defs>
<circle cx="279.7" cy="359.8" r="4.0" fill="url(#g12)"/>
<defs><radialGradient id="g13" cx="0.35" cy="0.3" r="0.75"><stop offset="0" stop-color="#b0b0ff"/><stop offset="0.35" stop-color="#1a1ab0"/><stop offset="1" stop-color="#08084a"/></radialGradient></defs>
<circle cx="334.6" cy="473.6" r="4.0" fill="url(#g13)"/>
<defs><radialGradient id="g14" cx="0.35" cy="0.3" r="0.75"><stop offset="0" stop-color="#c8c8c8"/><stop offset="0.35" stop-color="#111"/><stop offset="1" stop-color="#000"/></radialGradient></defs>
<circle cx="334.6" cy="469.1" r="4.0" fill="url(#g14)"/>
<defs><radialGradient id="g15" cx="0.35" cy="0.3" r="0.75"><stop offset="0" stop-color="#b8f0b8"/><stop offset="0.35" stop-color="#1a9a1a"/><stop offset="1" stop-color="#0a4a0a"/></radialGradient></defs>
<circle cx="334.6" cy="468.0" r="4.0" fill="url(#g15)"/>
<line x1="265.0" y1="297.6" x2="295.0" y2="297.6" stroke="#5ccc2c" stroke-width="2.4" />
<rect x="274" y="293.6" width="14" height="8" fill="#fff"/>
<line x1="265.0" y1="297.6" x2="275.0" y2="297.6" stroke="#5ccc2c" stroke-width="2.4" />
<line x1="290.0" y1="297.6" x2="295.0" y2="297.6" stroke="#5ccc2c" stroke-width="2.4" />
<defs><radialGradient id="g16" cx="0.35" cy="0.3" r="0.75"><stop offset="0" stop-color="#c8c8c8"/><stop offset="0.35" stop-color="#111"/><stop offset="1" stop-color="#000"/></radialGradient></defs>
<circle cx="280.2" cy="297.6" r="5" fill="url(#g16)"/>
<text x="301.0" y="301.9" font-size="12.3" font-weight="bold" fill="#000" text-anchor="start" textLength="38" lengthAdjust="spacingAndGlyphs" >465nm</text>
<line x1="265.0" y1="311.5" x2="295.0" y2="311.5" stroke="#f5902a" stroke-width="2.4" />
<rect x="274" y="307.5" width="14" height="8" fill="#fff"/>
<line x1="265.0" y1="311.5" x2="275.0" y2="311.5" stroke="#f5902a" stroke-width="2.4" />
<line x1="290.0" y1="311.5" x2="295.0" y2="311.5" stroke="#f5902a" stroke-width="2.4" />
<defs><radialGradient id="g17" cx="0.35" cy="0.3" r="0.75"><stop offset="0" stop-color="#b0b0ff"/><stop offset="0.35" stop-color="#1a1ab0"/><stop offset="1" stop-color="#08084a"/></radialGradient></defs>
<circle cx="280.2" cy="311.5" r="5" fill="url(#g17)"/>
<text x="301.0" y="315.8" font-size="12.3" font-weight="bold" fill="#000" text-anchor="start" textLength="38" lengthAdjust="spacingAndGlyphs" >395nm</text>
<line x1="265.0" y1="326.0" x2="295.0" y2="326.0" stroke="#8a22e0" stroke-width="2.4" />
<rect x="274" y="322" width="14" height="8" fill="#fff"/>
<line x1="265.0" y1="326.0" x2="275.0" y2="326.0" stroke="#8a22e0" stroke-width="2.4" />
<line x1="290.0" y1="326.0" x2="295.0" y2="326.0" stroke="#8a22e0" stroke-width="2.4" />
<defs><radialGradient id="g18" cx="0.35" cy="0.3" r="0.75"><stop offset="0" stop-color="#b8f0b8"/><stop offset="0.35" stop-color="#1a9a1a"/><stop offset="1" stop-color="#0a4a0a"/></radialGradient></defs>
<circle cx="280.2" cy="326.0" r="5" fill="url(#g18)"/>
<text x="301.0" y="330.3" font-size="12.3" font-weight="bold" fill="#000" text-anchor="start" textLength="38" lengthAdjust="spacingAndGlyphs" >266nm</text>
<path d="M407.4,455.7 C409.3,456.7 415.2,460.4 419.0,461.8 C422.8,463.2 426.6,464.4 430.4,464.3 C434.2,464.2 437.5,465.3 442.0,461.0 C446.5,456.7 450.7,454.5 457.3,438.7 C463.9,422.9 474.6,387.1 481.8,366.1 C489.0,345.1 495.1,323.4 500.5,312.5 C505.9,301.6 509.5,299.7 514.0,300.6 C518.5,301.5 520.7,303.8 527.5,318.0 C534.3,332.2 547.9,368.1 554.6,385.6 C561.3,403.1 562.6,412.2 567.7,422.8 C572.8,433.4 579.0,442.4 585.0,449.0 C591.0,455.6 597.7,459.9 604.0,462.5 C610.3,465.1 619.5,464.2 622.6,464.6" fill="none" stroke="#e0188a" stroke-width="2.6"/>
<circle cx="402.9" cy="451.6" r="5" fill="#fff"/>
<defs><radialGradient id="g19" cx="0.35" cy="0.3" r="0.75"><stop offset="0" stop-color="#e8c8ff"/><stop offset="0.35" stop-color="#8a1ff0"/><stop offset="1" stop-color="#4a0a9a"/></radialGradient></defs>
<circle cx="402.9" cy="451.6" r="3.9" fill="url(#g19)"/>
<circle cx="457.6" cy="438.7" r="5" fill="#fff"/>
<defs><radialGradient id="g20" cx="0.35" cy="0.3" r="0.75"><stop offset="0" stop-color="#e8c8ff"/><stop offset="0.35" stop-color="#8a1ff0"/><stop offset="1" stop-color="#4a0a9a"/></radialGradient></defs>
<circle cx="457.6" cy="438.7" r="3.9" fill="url(#g20)"/>
<circle cx="512.4" cy="301.5" r="5" fill="#fff"/>
<defs><radialGradient id="g21" cx="0.35" cy="0.3" r="0.75"><stop offset="0" stop-color="#e8c8ff"/><stop offset="0.35" stop-color="#8a1ff0"/><stop offset="1" stop-color="#4a0a9a"/></radialGradient></defs>
<circle cx="512.4" cy="301.5" r="3.9" fill="url(#g21)"/>
<circle cx="567.6" cy="422.5" r="5" fill="#fff"/>
<defs><radialGradient id="g22" cx="0.35" cy="0.3" r="0.75"><stop offset="0" stop-color="#e8c8ff"/><stop offset="0.35" stop-color="#8a1ff0"/><stop offset="1" stop-color="#4a0a9a"/></radialGradient></defs>
<circle cx="567.6" cy="422.5" r="3.9" fill="url(#g22)"/>
<circle cx="622.5" cy="464.4" r="5" fill="#fff"/>
<defs><radialGradient id="g23" cx="0.35" cy="0.3" r="0.75"><stop offset="0" stop-color="#e8c8ff"/><stop offset="0.35" stop-color="#8a1ff0"/><stop offset="1" stop-color="#4a0a9a"/></radialGradient></defs>
<circle cx="622.5" cy="464.4" r="3.9" fill="url(#g23)"/>
<line x1="544.0" y1="301.2" x2="577.4" y2="301.2" stroke="#e0188a" stroke-width="2.6" />
<defs><radialGradient id="g24" cx="0.35" cy="0.3" r="0.75"><stop offset="0" stop-color="#e8c8ff"/><stop offset="0.35" stop-color="#8a1ff0"/><stop offset="1" stop-color="#4a0a9a"/></radialGradient></defs>
<circle cx="560.2" cy="300.8" r="5.5" fill="url(#g24)"/>
<text x="581.0" y="305.6" font-size="12.5" font-weight="bold" fill="#000" text-anchor="start" textLength="45.5" lengthAdjust="spacingAndGlyphs" >266 nm</text>
<defs><linearGradient id="pgrad" x1="0" y1="0" x2="0" y2="1"><stop offset="0" stop-color="#f0e0fb"/><stop offset="1" stop-color="#cf8cf0"/></linearGradient><linearGradient id="glow" x1="0" y1="0" x2="1" y2="0"><stop offset="0" stop-color="#fff" stop-opacity="0"/><stop offset="0.3" stop-color="#d9b8ef"/><stop offset="0.7" stop-color="#d9b8ef"/><stop offset="1" stop-color="#fff" stop-opacity="0"/></linearGradient></defs>
<path d="M93.4,16.9 Q111.8,67.6 130.2,67.6 Q144.2,67.6 158.3,16.9 Z" fill="url(#pgrad)" stroke="none"/>
<path d="M93.4,16.9 Q111.8,67.6 130.2,67.6 Q144.2,67.6 158.3,16.9" fill="none" stroke="#7030a8" stroke-width="2.4"/>
<path d="M93.0,168.8 Q111.3,228.7 129.7,228.7 Q143.8,228.7 158.0,168.8" fill="none" stroke="#7a36b4" stroke-width="2.6"/>
<rect x="123" y="72" width="14" height="156" fill="url(#glow)"/>
<line x1="130.0" y1="80.0" x2="130.0" y2="228.0" stroke="#7a38b8" stroke-width="4" />
<path d="M125.5,81 L130,70.5 L134.5,81 Z" fill="#7a38b8"/>
<text x="127.0" y="135.5" font-size="12" font-weight="bold" fill="#000" text-anchor="middle" textLength="96" lengthAdjust="spacingAndGlyphs" transform="rotate(-90 127.0 135.5)" >260-330 nm band</text>
<text x="130.2" y="242.2" font-size="13" font-weight="bold" fill="#000" text-anchor="middle" textLength="49" lengthAdjust="spacingAndGlyphs" >Eu/Mo-O</text>
<path d="M178.2,164.0 Q203.6,230.6 229.0,230.6 Q265.1,230.6 301.2,138.6" fill="none" stroke="#2a7acb" stroke-width="2.5"/>
<path d="M184.5,155.5 Q208.2,225.5 232.0,225.5 Q264.4,225.5 296.8,147.2" fill="none" stroke="#2a7acb" stroke-width="1.1"/>
<path d="M187.5,152.0 Q211.2,221.5 235.0,221.5 Q264.9,221.5 294.9,148.2" fill="none" stroke="#2a7acb" stroke-width="1.1"/>
<path d="M190.5,149.0 Q214.2,217.5 238.0,217.5 Q264.6,217.5 291.1,150.0" fill="none" stroke="#2a7acb" stroke-width="1.1"/>
<path d="M193.5,146.0 Q217.2,213.0 241.0,213.0 Q264.6,213.0 288.2,152.0" fill="none" stroke="#2a7acb" stroke-width="1.1"/>
<path d="M198.2,134.5 Q221.1,207.0 244.0,207.0 Q262.8,207.0 281.5,160.6" fill="none" stroke="#2a7acb" stroke-width="1.1"/>
<path d="M201.3,131.0 Q224.2,202.0 247.0,202.0 Q262.9,202.0 278.7,163.4" fill="none" stroke="#2a7acb" stroke-width="1.1"/>
<path d="M185.9,64.9 188.4,72.1 191.0,78.8 193.5,85.2 196.0,91.1 198.6,96.6 201.1,101.7 203.6,106.5 206.2,110.9 208.7,114.9 211.2,118.5 213.8,121.8 216.3,124.8 218.8,127.4 221.4,129.8 223.9,131.8 226.4,133.5 229.0,135.0 231.5,136.1 234.0,137.1 236.6,137.8 239.1,138.3 241.6,138.6 244.2,138.8 246.7,138.8 248.8,138.7 250.8,138.5 252.9,138.1 254.9,137.4 257.0,136.5 259.0,135.4 261.1,134.0 263.1,132.4 265.2,130.5 267.2,128.3 269.3,125.9 271.4,123.2 273.4,120.2 275.5,116.9 277.5,113.3 279.6,109.4 281.6,105.2 283.7,100.7 285.7,95.9 287.8,90.7 289.8,85.3 291.9,79.5 293.9,73.4 296.0,67.0 Z" fill="#d6f53a" stroke="none"/>
<path d="M185.9,64.9 188.4,72.1 191.0,78.8 193.5,85.2 196.0,91.1 198.6,96.6 201.1,101.7 203.6,106.5 206.2,110.9 208.7,114.9 211.2,118.5 213.8,121.8 216.3,124.8 218.8,127.4 221.4,129.8 223.9,131.8 226.4,133.5 229.0,135.0 231.5,136.1 234.0,137.1 236.6,137.8 239.1,138.3 241.6,138.6 244.2,138.8 246.7,138.8 248.8,138.7 250.8,138.5 252.9,138.1 254.9,137.4 257.0,136.5 259.0,135.4 261.1,134.0 263.1,132.4 265.2,130.5 267.2,128.3 269.3,125.9 271.4,123.2 273.4,120.2 275.5,116.9 277.5,113.3 279.6,109.4 281.6,105.2 283.7,100.7 285.7,95.9 287.8,90.7 289.8,85.3 291.9,79.5 293.9,73.4 296.0,67.0" fill="none" stroke="#000" stroke-width="1.3"/>
<path d="M185.4,55.5 188.1,62.6 190.8,69.4 193.5,75.7 196.2,81.5 198.9,87.0 201.6,92.2 204.2,96.9 206.9,101.2 209.6,105.2 212.3,108.8 215.0,112.1 217.7,115.1 220.4,117.7 223.1,120.0 225.8,122.0 228.5,123.7 231.2,125.2 233.8,126.4 236.5,127.3 239.2,128.0 241.9,128.5 244.6,128.8 247.3,129.0 250.0,129.0 251.9,128.9 253.9,128.7 255.8,128.3 257.8,127.6 259.7,126.7 261.6,125.6 263.6,124.2 265.5,122.6 267.4,120.6 269.4,118.5 271.3,116.0 273.2,113.3 275.2,110.2 277.1,106.9 279.1,103.3 281.0,99.4 282.9,95.1 284.9,90.6 286.8,85.8 288.8,80.6 290.7,75.1 292.6,69.3 294.6,63.2 296.5,56.7 Z" fill="#1b74c6" stroke="none"/>
<path d="M185.4,55.5 188.1,62.6 190.8,69.4 193.5,75.7 196.2,81.5 198.9,87.0 201.6,92.2 204.2,96.9 206.9,101.2 209.6,105.2 212.3,108.8 215.0,112.1 217.7,115.1 220.4,117.7 223.1,120.0 225.8,122.0 228.5,123.7 231.2,125.2 233.8,126.4 236.5,127.3 239.2,128.0 241.9,128.5 244.6,128.8 247.3,129.0 250.0,129.0 251.9,128.9 253.9,128.7 255.8,128.3 257.8,127.6 259.7,126.7 261.6,125.6 263.6,124.2 265.5,122.6 267.4,120.6 269.4,118.5 271.3,116.0 273.2,113.3 275.2,110.2 277.1,106.9 279.1,103.3 281.0,99.4 282.9,95.1 284.9,90.6 286.8,85.8 288.8,80.6 290.7,75.1 292.6,69.3 294.6,63.2 296.5,56.7" fill="none" stroke="#000" stroke-width="1.3"/>
<path d="M186.7,43.5 189.3,50.5 192.0,57.2 194.6,63.4 197.2,69.2 199.9,74.6 202.5,79.7 205.2,84.3 207.8,88.6 210.4,92.5 213.1,96.1 215.7,99.4 218.3,102.3 221.0,104.9 223.6,107.1 226.3,109.1 228.9,110.8 231.5,112.2 234.2,113.4 236.8,114.3 239.4,115.0 242.1,115.5 244.7,115.8 247.4,116.0 250.0,116.0 252.0,115.9 254.1,115.7 256.1,115.3 258.2,114.6 260.2,113.8 262.2,112.7 264.3,111.3 266.3,109.7 268.4,107.9 270.4,105.7 272.5,103.3 274.5,100.7 276.5,97.7 278.6,94.5 280.6,90.9 282.7,87.1 284.7,83.0 286.8,78.6 288.8,73.8 290.8,68.8 292.9,63.4 294.9,57.8 297.0,51.8 299.0,45.5 Z" fill="#b3a6d6" stroke="none"/>
<path d="M186.7,43.5 189.3,50.5 192.0,57.2 194.6,63.4 197.2,69.2 199.9,74.6 202.5,79.7 205.2,84.3 207.8,88.6 210.4,92.5 213.1,96.1 215.7,99.4 218.3,102.3 221.0,104.9 223.6,107.1 226.3,109.1 228.9,110.8 231.5,112.2 234.2,113.4 236.8,114.3 239.4,115.0 242.1,115.5 244.7,115.8 247.4,116.0 250.0,116.0 252.0,115.9 254.1,115.7 256.1,115.3 258.2,114.6 260.2,113.8 262.2,112.7 264.3,111.3 266.3,109.7 268.4,107.9 270.4,105.7 272.5,103.3 274.5,100.7 276.5,97.7 278.6,94.5 280.6,90.9 282.7,87.1 284.7,83.0 286.8,78.6 288.8,73.8 290.8,68.8 292.9,63.4 294.9,57.8 297.0,51.8 299.0,45.5" fill="none" stroke="#000" stroke-width="1.3"/>
<path d="M188.7,30.0 191.3,37.0 193.9,43.6 196.6,49.8 199.2,55.6 201.8,61.0 204.4,66.1 207.0,70.7 209.7,75.0 212.3,78.9 214.9,82.5 217.5,85.7 220.1,88.6 222.8,91.2 225.4,93.5 228.0,95.4 230.6,97.1 233.3,98.5 235.9,99.7 238.5,100.6 241.1,101.3 243.7,101.8 246.4,102.1 249.0,102.3 251.6,102.3 253.8,102.2 256.0,101.9 258.2,101.4 260.4,100.6 262.6,99.6 264.8,98.2 267.0,96.6 269.2,94.6 271.4,92.3 273.6,89.7 275.8,86.8 278.1,83.5 280.3,79.9 282.5,75.9 284.7,71.6 286.9,66.9 289.1,61.9 291.3,56.5 293.5,50.7 295.7,44.5 297.9,38.0 300.1,31.0 302.3,23.7 304.5,16.0 Z" fill="#ff7a12" stroke="none"/>
<path d="M188.7,30.0 191.3,37.0 193.9,43.6 196.6,49.8 199.2,55.6 201.8,61.0 204.4,66.1 207.0,70.7 209.7,75.0 212.3,78.9 214.9,82.5 217.5,85.7 220.1,88.6 222.8,91.2 225.4,93.5 228.0,95.4 230.6,97.1 233.3,98.5 235.9,99.7 238.5,100.6 241.1,101.3 243.7,101.8 246.4,102.1 249.0,102.3 251.6,102.3 253.8,102.2 256.0,101.9 258.2,101.4 260.4,100.6 262.6,99.6 264.8,98.2 267.0,96.6 269.2,94.6 271.4,92.3 273.6,89.7 275.8,86.8 278.1,83.5 280.3,79.9 282.5,75.9 284.7,71.6 286.9,66.9 289.1,61.9 291.3,56.5 293.5,50.7 295.7,44.5 297.9,38.0 300.1,31.0 302.3,23.7 304.5,16.0" fill="none" stroke="#000" stroke-width="1.3"/>
<path d="M191.4,23.4 194.0,30.4 196.6,36.9 199.1,43.0 201.7,48.8 204.3,54.1 206.8,59.1 209.4,63.7 212.0,67.9 214.6,71.8 217.2,75.4 219.7,78.6 222.3,81.4 224.9,84.0 227.4,86.2 230.0,88.2 232.6,89.9 235.2,91.3 237.8,92.4 240.3,93.3 242.9,94.0 245.5,94.5 248.0,94.8 250.6,95.0 253.2,95.0 255.4,94.9 257.6,94.7 259.7,94.2 261.9,93.4 264.1,92.4 266.3,91.2 268.5,89.6 270.6,87.8 272.8,85.6 275.0,83.2 277.2,80.4 279.4,77.4 281.5,74.0 283.7,70.3 285.9,66.2 288.1,61.8 290.2,57.1 292.4,52.0 294.6,46.6 296.8,40.8 299.0,34.6 301.1,28.1 303.3,21.2 305.5,14.0 Z" fill="#a8976a" stroke="none"/>
<path d="M191.4,23.4 194.0,30.4 196.6,36.9 199.1,43.0 201.7,48.8 204.3,54.1 206.8,59.1 209.4,63.7 212.0,67.9 214.6,71.8 217.2,75.4 219.7,78.6 222.3,81.4 224.9,84.0 227.4,86.2 230.0,88.2 232.6,89.9 235.2,91.3 237.8,92.4 240.3,93.3 242.9,94.0 245.5,94.5 248.0,94.8 250.6,95.0 253.2,95.0 255.4,94.9 257.6,94.7 259.7,94.2 261.9,93.4 264.1,92.4 266.3,91.2 268.5,89.6 270.6,87.8 272.8,85.6 275.0,83.2 277.2,80.4 279.4,77.4 281.5,74.0 283.7,70.3 285.9,66.2 288.1,61.8 290.2,57.1 292.4,52.0 294.6,46.6 296.8,40.8 299.0,34.6 301.1,28.1 303.3,21.2 305.5,14.0" fill="none" stroke="#000" stroke-width="1.3"/>
<path d="M194.0,18.7 196.6,25.6 199.1,32.2 201.7,38.3 204.3,44.0 206.8,49.3 209.4,54.3 212.0,58.9 214.5,63.1 217.1,67.0 219.7,70.5 222.2,73.7 224.8,76.6 227.4,79.1 229.9,81.4 232.5,83.3 235.1,85.0 237.6,86.4 240.2,87.5 242.8,88.4 245.3,89.1 247.9,89.6 250.5,89.9 253.0,90.1 255.6,90.1 257.7,90.0 259.8,89.8 261.9,89.3 264.0,88.6 266.1,87.7 268.2,86.4 270.4,85.0 272.5,83.2 274.6,81.2 276.7,78.9 278.8,76.2 280.9,73.3 283.0,70.1 285.1,66.5 287.2,62.7 289.3,58.5 291.4,54.0 293.6,49.2 295.7,44.0 297.8,38.5 299.9,32.6 302.0,26.4 304.1,19.9 306.2,13.0 Z" fill="#3e9ef2" stroke="none"/>
<path d="M194.0,18.7 196.6,25.6 199.1,32.2 201.7,38.3 204.3,44.0 206.8,49.3 209.4,54.3 212.0,58.9 214.5,63.1 217.1,67.0 219.7,70.5 222.2,73.7 224.8,76.6 227.4,79.1 229.9,81.4 232.5,83.3 235.1,85.0 237.6,86.4 240.2,87.5 242.8,88.4 245.3,89.1 247.9,89.6 250.5,89.9 253.0,90.1 255.6,90.1 257.7,90.0 259.8,89.8 261.9,89.3 264.0,88.6 266.1,87.7 268.2,86.4 270.4,85.0 272.5,83.2 274.6,81.2 276.7,78.9 278.8,76.2 280.9,73.3 283.0,70.1 285.1,66.5 287.2,62.7 289.3,58.5 291.4,54.0 293.6,49.2 295.7,44.0 297.8,38.5 299.9,32.6 302.0,26.4 304.1,19.9 306.2,13.0" fill="none" stroke="#000" stroke-width="1.3"/>
<path d="M197.5,12.8 200.1,19.8 202.6,26.3 205.2,32.4 207.7,38.2 210.3,43.5 212.8,48.5 215.4,53.1 218.0,57.3 220.5,61.2 223.1,64.8 225.6,68.0 228.2,70.8 230.8,73.4 233.3,75.6 235.9,77.6 238.4,79.3 241.0,80.7 243.5,81.8 246.1,82.7 248.7,83.4 251.2,83.9 253.8,84.2 256.3,84.4 258.9,84.4 260.9,84.3 262.9,84.1 264.9,83.7 266.9,83.0 268.9,82.1 270.9,81.0 272.9,79.6 274.9,78.0 276.9,76.1 278.9,74.0 280.9,71.5 282.9,68.8 284.8,65.8 286.8,62.5 288.8,58.9 290.8,55.1 292.8,50.9 294.8,46.4 296.8,41.6 298.8,36.5 300.8,31.0 302.8,25.3 304.8,19.2 306.8,12.8 Z" fill="#66ff66" stroke="none"/>
<path d="M197.5,12.8 200.1,19.8 202.6,26.3 205.2,32.4 207.7,38.2 210.3,43.5 212.8,48.5 215.4,53.1 218.0,57.3 220.5,61.2 223.1,64.8 225.6,68.0 228.2,70.8 230.8,73.4 233.3,75.6 235.9,77.6 238.4,79.3 241.0,80.7 243.5,81.8 246.1,82.7 248.7,83.4 251.2,83.9 253.8,84.2 256.3,84.4 258.9,84.4 260.9,84.3 262.9,84.1 264.9,83.7 266.9,83.0 268.9,82.1 270.9,81.0 272.9,79.6 274.9,78.0 276.9,76.1 278.9,74.0 280.9,71.5 282.9,68.8 284.8,65.8 286.8,62.5 288.8,58.9 290.8,55.1 292.8,50.9 294.8,46.4 296.8,41.6 298.8,36.5 300.8,31.0 302.8,25.3 304.8,19.2 306.8,12.8" fill="none" stroke="#000" stroke-width="1.3"/>
<line x1="209.0" y1="74.0" x2="209.0" y2="230.0" stroke="#111" stroke-width="1.4" stroke-dasharray="6,2.5,1.5,2.5"/>
<line x1="214.5" y1="84.0" x2="214.5" y2="230.0" stroke="#111" stroke-width="1.4" stroke-dasharray="6,2.5,1.5,2.5"/>
<line x1="219.3" y1="90.0" x2="219.3" y2="230.0" stroke="#111" stroke-width="1.4" stroke-dasharray="6,2.5,1.5,2.5"/>
<line x1="223.5" y1="98.0" x2="223.5" y2="230.0" stroke="#111" stroke-width="1.4" stroke-dasharray="6,2.5,1.5,2.5"/>
<line x1="228.0" y1="106.0" x2="228.0" y2="230.0" stroke="#111" stroke-width="1.4" stroke-dasharray="6,2.5,1.5,2.5"/>
<line x1="210.5" y1="75.0" x2="210.5" y2="38.0" stroke="#222" stroke-width="1.1" />
<path d="M208.3,42.5 L210.5,38 L212.7,42.5" fill="none" stroke="#222" stroke-width="1.1"/>
<line x1="220.5" y1="92.0" x2="220.5" y2="78.5" stroke="#222" stroke-width="1.1" />
<path d="M218.3,83.0 L220.5,78.5 L222.7,83.0" fill="none" stroke="#222" stroke-width="1.1"/>
<line x1="223.0" y1="104.0" x2="223.0" y2="94.0" stroke="#222" stroke-width="1.1" />
<path d="M220.8,98.5 L223,94 L225.2,98.5" fill="none" stroke="#222" stroke-width="1.1"/>
<line x1="214.8" y1="62.0" x2="214.8" y2="82.0" stroke="#222" stroke-width="1.1" stroke-dasharray="4,2"/>
<line x1="250.0" y1="75.3" x2="296.0" y2="75.3" stroke="#111" stroke-width="1.1" />
<line x1="250.0" y1="87.0" x2="296.0" y2="87.0" stroke="#111" stroke-width="1.1" />
<line x1="250.0" y1="95.2" x2="296.0" y2="95.2" stroke="#111" stroke-width="1.1" />
<line x1="250.0" y1="102.5" x2="296.0" y2="102.5" stroke="#111" stroke-width="1.1" />
<line x1="250.0" y1="115.2" x2="296.0" y2="115.2" stroke="#111" stroke-width="1.1" />
<line x1="250.0" y1="127.3" x2="296.0" y2="127.3" stroke="#111" stroke-width="1.1" />
<line x1="250.0" y1="139.1" x2="296.0" y2="139.1" stroke="#111" stroke-width="1.1" />
<text x="297.8" y="72.1" font-size="5.2" font-weight="bold" fill="#000" text-anchor="start" >5</text>
<text x="301.2" y="76.3" font-size="9.2" font-weight="bold" fill="#000" text-anchor="start" >D</text>
<text x="307.6" y="78.1" font-size="6" font-weight="bold" fill="#000" text-anchor="start" >4</text>
<text x="297.8" y="84.2" font-size="5.2" font-weight="bold" fill="#000" text-anchor="start" >5</text>
<text x="301.2" y="88.4" font-size="9.2" font-weight="bold" fill="#000" text-anchor="start" >G</text>
<text x="307.6" y="90.2" font-size="6" font-weight="bold" fill="#000" text-anchor="start" >2</text>
<text x="297.8" y="92.8" font-size="5.2" font-weight="bold" fill="#000" text-anchor="start" >5</text>
<text x="301.2" y="97.0" font-size="9.2" font-weight="bold" fill="#000" text-anchor="start" >L</text>
<text x="307.6" y="98.8" font-size="6" font-weight="bold" fill="#000" text-anchor="start" >6</text>
<text x="297.8" y="103.1" font-size="5.2" font-weight="bold" fill="#000" text-anchor="start" >5</text>
<text x="301.2" y="107.3" font-size="9.2" font-weight="bold" fill="#000" text-anchor="start" >D</text>
<text x="307.6" y="109.1" font-size="6" font-weight="bold" fill="#000" text-anchor="start" >3</text>
<text x="297.8" y="114.2" font-size="5.2" font-weight="bold" fill="#000" text-anchor="start" >5</text>
<text x="301.2" y="118.4" font-size="9.2" font-weight="bold" fill="#000" text-anchor="start" >D</text>
<text x="307.6" y="120.2" font-size="6" font-weight="bold" fill="#000" text-anchor="start" >2</text>
<text x="297.8" y="125.5" font-size="5.2" font-weight="bold" fill="#000" text-anchor="start" >5</text>
<text x="301.2" y="129.7" font-size="9.2" font-weight="bold" fill="#000" text-anchor="start" >D</text>
<text x="307.6" y="131.5" font-size="6" font-weight="bold" fill="#000" text-anchor="start" >1</text>
<text x="297.8" y="137.5" font-size="5.2" font-weight="bold" fill="#000" text-anchor="start" >5</text>
<text x="301.2" y="141.7" font-size="9.2" font-weight="bold" fill="#000" text-anchor="start" >D</text>
<text x="307.6" y="143.5" font-size="6" font-weight="bold" fill="#000" text-anchor="start" >0</text>
<line x1="236.1" y1="139.0" x2="236.1" y2="222.3" stroke="#9cc83c" stroke-width="1.8" />
<path d="M232.6,220.3 L236.1,227.3 L239.6,220.3" fill="none" stroke="#9cc83c" stroke-width="2"/>
<line x1="241.1" y1="139.0" x2="241.1" y2="216.2" stroke="#e02828" stroke-width="1.8" />
<path d="M237.6,214.2 L241.1,221.2 L244.6,214.2" fill="none" stroke="#e02828" stroke-width="2"/>
<line x1="244.6" y1="139.0" x2="244.6" y2="211.2" stroke="#e02828" stroke-width="1.8" />
<path d="M241.1,209.2 L244.6,216.2 L248.1,209.2" fill="none" stroke="#e02828" stroke-width="2"/>
<line x1="248.1" y1="139.0" x2="248.1" y2="207.2" stroke="#d81e3a" stroke-width="1.8" />
<path d="M244.6,205.2 L248.1,212.2 L251.6,205.2" fill="none" stroke="#d81e3a" stroke-width="2"/>
<line x1="251.3" y1="139.0" x2="251.3" y2="204.2" stroke="#a01e50" stroke-width="1.8" />
<path d="M247.8,202.2 L251.3,209.2 L254.8,202.2" fill="none" stroke="#a01e50" stroke-width="2"/>
<line x1="251.3" y1="169.1" x2="302.0" y2="169.1" stroke="#111" stroke-width="1.1" stroke-dasharray="3,2"/>
<path d="M299,166.6 L303.7,169.1 L299,171.6" fill="none" stroke="#111" stroke-width="1.1"/>
<text x="307.0" y="170.4" font-size="8.8" font-weight="bold" fill="#000" text-anchor="start" textLength="30" lengthAdjust="spacingAndGlyphs" >702 nm</text>
<line x1="246.0" y1="180.6" x2="302.0" y2="180.6" stroke="#111" stroke-width="1.1" stroke-dasharray="3,2"/>
<path d="M299,178.1 L303.7,180.6 L299,183.1" fill="none" stroke="#111" stroke-width="1.1"/>
<text x="307.0" y="181.9" font-size="8.8" font-weight="bold" fill="#000" text-anchor="start" textLength="30" lengthAdjust="spacingAndGlyphs" >652 nm</text>
<line x1="242.0" y1="193.6" x2="302.0" y2="193.6" stroke="#111" stroke-width="1.1" stroke-dasharray="3,2"/>
<path d="M299,191.1 L303.7,193.6 L299,196.1" fill="none" stroke="#111" stroke-width="1.1"/>
<text x="307.0" y="194.9" font-size="8.8" font-weight="bold" fill="#000" text-anchor="start" textLength="30" lengthAdjust="spacingAndGlyphs" >613 nm</text>
<line x1="237.0" y1="205.8" x2="302.0" y2="205.8" stroke="#111" stroke-width="1.1" stroke-dasharray="3,2"/>
<path d="M299,203.3 L303.7,205.8 L299,208.3" fill="none" stroke="#111" stroke-width="1.1"/>
<text x="307.0" y="207.1" font-size="8.8" font-weight="bold" fill="#000" text-anchor="start" textLength="30" lengthAdjust="spacingAndGlyphs" >591 nm</text>
<line x1="228.7" y1="115.3" x2="179.0" y2="115.3" stroke="#e03a3a" stroke-width="1.1" stroke-dasharray="3,1.8"/>
<path d="M181.5,113.1 L178,115.3 L181.5,117.5" fill="none" stroke="#e03a3a" stroke-width="1.2"/>
<text x="145.8" y="118.3" font-size="8.6" font-weight="bold" fill="#000" text-anchor="start" textLength="29.7" lengthAdjust="spacingAndGlyphs" >466 nm</text>
<line x1="224.9" y1="128.0" x2="179.0" y2="128.0" stroke="#e03a3a" stroke-width="1.1" stroke-dasharray="3,1.8"/>
<path d="M181.5,125.8 L178,128 L181.5,130.2" fill="none" stroke="#e03a3a" stroke-width="1.2"/>
<text x="145.8" y="130.5" font-size="8.6" font-weight="bold" fill="#000" text-anchor="start" textLength="29.7" lengthAdjust="spacingAndGlyphs" >415 nm</text>
<line x1="219.5" y1="141.0" x2="179.0" y2="141.0" stroke="#e03a3a" stroke-width="1.1" stroke-dasharray="3,1.8"/>
<path d="M181.5,138.8 L178,141 L181.5,143.2" fill="none" stroke="#e03a3a" stroke-width="1.2"/>
<text x="145.8" y="142.0" font-size="8.6" font-weight="bold" fill="#000" text-anchor="start" textLength="29.7" lengthAdjust="spacingAndGlyphs" >395 nm</text>
<line x1="214.9" y1="153.8" x2="179.0" y2="153.8" stroke="#e03a3a" stroke-width="1.1" stroke-dasharray="3,1.8"/>
<path d="M181.5,151.60000000000002 L178,153.8 L181.5,156.0" fill="none" stroke="#e03a3a" stroke-width="1.2"/>
<text x="145.8" y="153.5" font-size="8.6" font-weight="bold" fill="#000" text-anchor="start" textLength="29.7" lengthAdjust="spacingAndGlyphs" >383 nm</text>
<line x1="209.6" y1="166.5" x2="179.0" y2="166.5" stroke="#e03a3a" stroke-width="1.1" stroke-dasharray="3,1.8"/>
<path d="M181.5,164.3 L178,166.5 L181.5,168.7" fill="none" stroke="#e03a3a" stroke-width="1.2"/>
<text x="145.8" y="165.7" font-size="8.6" font-weight="bold" fill="#000" text-anchor="start" textLength="29.7" lengthAdjust="spacingAndGlyphs" >361 nm</text>
<line x1="256.0" y1="222.6" x2="273.2" y2="197.8" stroke="#1f3f9f" stroke-width="1.6" stroke-dasharray="1.5,2"/>
<text x="278.0" y="202.0" font-size="8.5" font-weight="bold" fill="#000" text-anchor="middle" >6</text>
<text x="271.2" y="219.5" font-size="8.5" font-weight="bold" fill="#000" text-anchor="start" ><tspan font-size="4.5" dy="-3">7</tspan><tspan dy="3">F</tspan><tspan font-size="5" dy="2">J</tspan></text>
<text x="247.2" y="233.0" font-size="8.3" font-weight="bold" fill="#000" text-anchor="start" textLength="13.5" lengthAdjust="spacingAndGlyphs" >J=0</text>
<text x="222.0" y="241.7" font-size="11.5" font-weight="bold" fill="#000" text-anchor="start" textLength="11.6" lengthAdjust="spacingAndGlyphs" >Eu</text>
<text x="233.6" y="238.4" font-size="7.5" font-weight="bold" fill="#000" text-anchor="start" textLength="9.5" lengthAdjust="spacingAndGlyphs" >3+</text>
<text x="158.8" y="26.5" font-size="9" font-weight="bold" fill="#222" text-anchor="start" textLength="27" lengthAdjust="spacingAndGlyphs" transform="rotate(18 158.8 26.5)" >Energy</text>
<text x="157.5" y="37.8" font-size="9" font-weight="bold" fill="#222" text-anchor="start" textLength="33" lengthAdjust="spacingAndGlyphs" transform="rotate(18 157.5 37.8)" >Transfer</text>
<path d="M150,16.5 C165,3 200,1 216,28" fill="none" stroke="#0e2460" stroke-width="3.8"/>
<path d="M151,16.5 C165,3.5 199,1.5 215,28" fill="none" stroke="#fff" stroke-width="1.1"/>
<path d="M210.5,27.5 L222,30.5 L216.5,35.2 Z" fill="#fff" stroke="#125a66" stroke-width="1.4" stroke-linejoin="miter"/>
<path d="M526.0,22.2 L532.4,28.6 M526.0,28.6 L532.4,22.2" stroke="#000" stroke-width="2"/>
<path d="M528.3,35.7 L528.3,45.7 M524.2,37.8 L532.4,43.6 M524.2,43.6 L532.4,37.8 " stroke="#000" stroke-width="2.2"/>
<path d="M523.1,60.4 L528.5,50.9 L533.9,60.4 Z" fill="#000"/>
<text x="545.6" y="29.5" font-size="11" font-weight="bold" fill="#000" text-anchor="start" textLength="79.6" lengthAdjust="spacingAndGlyphs" >a1-a5 - 266 nm</text>
<text x="545.6" y="45.0" font-size="11" font-weight="bold" fill="#000" text-anchor="start" textLength="79.6" lengthAdjust="spacingAndGlyphs" >b1-b5 - 395 nm</text>
<text x="545.6" y="59.7" font-size="11" font-weight="bold" fill="#000" text-anchor="start" textLength="79.6" lengthAdjust="spacingAndGlyphs" >c1-c5&#160; - 465 nm</text>
<path d="M535.1,108.8 L539.0,101.9 L542.9,108.8 Z" fill="#000"/>
<path d="M562.8,127.2 L566.7,120.4 L570.6,127.2 Z" fill="#000"/>
<path d="M533.5,148.8 L533.5,154.0 M531.4,149.9 L535.6,152.9 M531.4,152.9 L535.6,149.9 " stroke="#000" stroke-width="1.8"/>
<path d="M537.5,148.4 L537.5,153.6 M535.4,149.5 L539.6,152.5 M535.4,152.5 L539.6,149.5 " stroke="#000" stroke-width="1.8"/>
<path d="M541.5,148.8 L541.5,154.0 M539.4,149.9 L543.6,152.9 M539.4,152.9 L543.6,149.9 " stroke="#000" stroke-width="1.8"/>
<path d="M560.0,151.2 L560.0,156.4 M557.9,152.3 L562.1,155.3 M557.9,155.3 L562.1,152.3 " stroke="#000" stroke-width="1.8"/>
<path d="M564.0,150.8 L564.0,156.0 M561.9,151.9 L566.1,154.9 M561.9,154.9 L566.1,151.9 " stroke="#000" stroke-width="1.8"/>
<path d="M568.0,150.0 L568.0,155.2 M565.9,151.1 L570.1,154.1 M565.9,154.1 L570.1,151.1 " stroke="#000" stroke-width="1.8"/>
<path d="M571.5,147.9 L571.5,153.1 M569.4,149.0 L573.6,152.0 M569.4,152.0 L573.6,149.0 " stroke="#000" stroke-width="1.8"/>
<path d="M592.4,144.0 L596.0,137.7 L599.6,144.0 Z" fill="#000"/>
<path d="M595.4,145.5 L599.0,139.2 L602.6,145.5 Z" fill="#000"/>
<path d="M598.4,146.0 L602.0,139.7 L605.6,146.0 Z" fill="#000"/>
<path d="M594.4,147.0 L598.0,140.7 L601.6,147.0 Z" fill="#000"/>
<path d="M601.5,141.0 L606.5,146.0 M601.5,146.0 L606.5,141.0" stroke="#000" stroke-width="1.4"/>
<text x="542.0" y="106.2" font-size="11.5" font-weight="normal" fill="#2a1420" text-anchor="start" textLength="13" lengthAdjust="spacingAndGlyphs" stroke="#2a1420" stroke-width="0.4">C4</text>
<text x="570.4" y="126.2" font-size="11.5" font-weight="normal" fill="#2a1420" text-anchor="start" textLength="12.1" lengthAdjust="spacingAndGlyphs" stroke="#2a1420" stroke-width="0.4">C3</text>
<text x="594.1" y="135.3" font-size="11.5" font-weight="normal" fill="#2a1420" text-anchor="start" textLength="25.6" lengthAdjust="spacingAndGlyphs" stroke="#2a1420" stroke-width="0.4">a1 a2</text>
<text x="580.0" y="143.8" font-size="11.5" font-weight="normal" fill="#2a1420" text-anchor="start" textLength="12.9" lengthAdjust="spacingAndGlyphs" stroke="#2a1420" stroke-width="0.4">C1</text>
<text x="606.9" y="147.5" font-size="11.5" font-weight="normal" fill="#2a1420" text-anchor="start" textLength="26.1" lengthAdjust="spacingAndGlyphs" stroke="#2a1420" stroke-width="0.4">a3 a4</text>
<text x="579.5" y="154.8" font-size="11.5" font-weight="normal" fill="#2a1420" text-anchor="start" textLength="12.8" lengthAdjust="spacingAndGlyphs" stroke="#2a1420" stroke-width="0.4">C2</text>
<text x="592.3" y="159.0" font-size="11.5" font-weight="normal" fill="#2a1420" text-anchor="start" textLength="12.2" lengthAdjust="spacingAndGlyphs" stroke="#2a1420" stroke-width="0.4">C3</text>
<text x="607.5" y="162.7" font-size="11.5" font-weight="normal" fill="#2a1420" text-anchor="start" textLength="9.7" lengthAdjust="spacingAndGlyphs" stroke="#2a1420" stroke-width="0.4">a5</text>
<text x="564.2" y="146.2" font-size="11.5" font-weight="normal" fill="#2a1420" text-anchor="start" textLength="12.2" lengthAdjust="spacingAndGlyphs" stroke="#2a1420" stroke-width="0.4">b2</text>
<text x="566.7" y="166.4" font-size="11.5" font-weight="normal" fill="#2a1420" text-anchor="start" textLength="12.8" lengthAdjust="spacingAndGlyphs" stroke="#2a1420" stroke-width="0.4">b5</text>
<text x="535.2" y="145.2" font-size="11.5" font-weight="normal" fill="#2a1420" text-anchor="start" textLength="13" lengthAdjust="spacingAndGlyphs" stroke="#2a1420" stroke-width="0.4">b3</text>
<text x="516.8" y="157.5" font-size="11.5" font-weight="normal" fill="#2a1420" text-anchor="start" textLength="13" lengthAdjust="spacingAndGlyphs" stroke="#2a1420" stroke-width="0.4">b4</text>
<text x="549.0" y="167.4" font-size="11.5" font-weight="normal" fill="#2a1420" text-anchor="start" textLength="12.2" lengthAdjust="spacingAndGlyphs" stroke="#2a1420" stroke-width="0.4">b1</text>
</svg>
</body></html>
